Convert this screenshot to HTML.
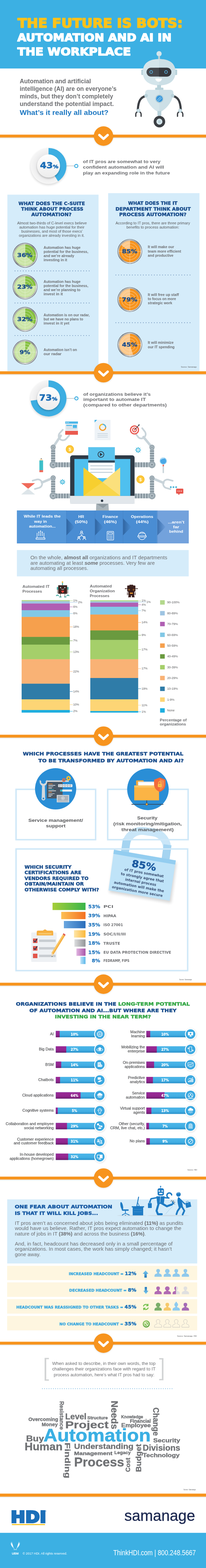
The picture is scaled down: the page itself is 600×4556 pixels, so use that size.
<!DOCTYPE html>
<html><head><meta charset="utf-8"><title>The Future is Bots: Automation and AI in the Workplace</title>
<style>html,body{margin:0;padding:0;background:#fff}svg{display:block}</style></head>
<body>
<svg xmlns="http://www.w3.org/2000/svg" width="600" height="4556" viewBox="0 0 600 4556">
<defs>
<filter id="sh" x="-30%" y="-30%" width="160%" height="170%"><feGaussianBlur in="SourceAlpha" stdDeviation="2"/><feOffset dy="2" result="b"/><feFlood flood-color="#000" flood-opacity="0.18"/><feComposite in2="b" operator="in"/><feMerge><feMergeNode/><feMergeNode in="SourceGraphic"/></feMerge></filter>
<filter id="sh2" x="-30%" y="-30%" width="160%" height="170%"><feGaussianBlur in="SourceAlpha" stdDeviation="3"/><feOffset dy="3" result="b"/><feFlood flood-color="#000" flood-opacity="0.22"/><feComposite in2="b" operator="in"/><feMerge><feMergeNode/><feMergeNode in="SourceGraphic"/></feMerge></filter>
<linearGradient id="lineSh" x1="0" y1="0" x2="0" y2="1"><stop offset="0" stop-color="#000" stop-opacity="0.12"/><stop offset="1" stop-color="#000" stop-opacity="0"/></linearGradient>
</defs>
<defs><filter id="blur2"><feGaussianBlur stdDeviation="2"/></filter></defs>
<rect x="0" y="0" width="600" height="199" fill="#3cb0e3" />
<text x="51.2" y="79.8" font-size="37.9" fill="#fbc21b" font-weight="bold" font-family="'DejaVu Sans', 'Liberation Sans', sans-serif" textLength="480.8" lengthAdjust="spacingAndGlyphs" stroke="#fbc21b" stroke-width="2.4" stroke-linejoin="round">THE FUTURE IS BOTS:</text>
<text x="50.6" y="119.9" font-size="32.2" fill="#fff" font-weight="bold" font-family="'DejaVu Sans', 'Liberation Sans', sans-serif" textLength="449" lengthAdjust="spacingAndGlyphs" stroke="#fff" stroke-width="2.2" stroke-linejoin="round">AUTOMATION AND AI IN</text>
<text x="50.8" y="161.1" font-size="32" fill="#fff" font-weight="bold" font-family="'DejaVu Sans', 'Liberation Sans', sans-serif" textLength="330.5" lengthAdjust="spacingAndGlyphs" stroke="#fff" stroke-width="2.2" stroke-linejoin="round">THE WORKPLACE</text>
<circle cx="463.3" cy="156.1" r="7.6" fill="#d4e5eb" />
<rect x="460.6" y="162" width="5.4" height="11" fill="#b9d2da" />
<rect x="411.5" y="202" width="8" height="16" fill="#b9d2da" rx="2.5"/>
<rect x="508" y="202" width="8" height="16" fill="#b9d2da" rx="2.5"/>
<path d="M416 209 C416 182 436 171.4 463.5 171.4 C491 171.4 511 182 511 209 C511 236 492 248 463.5 248 C435 248 416 236 416 209 Z" fill="#d4e5eb" />
<path d="M463.5 171.4 C491 171.4 511 182 511 209 C511 236 492 248 463.5 248 Z" fill="#c4dae2" opacity="0.55"/>
<rect x="426.8" y="196.7" width="72.2" height="25.7" fill="#45494f" rx="12.8"/>
<path d="M463 196.7 H486.2 A12.8 12.8 0 0 1 486.2 222.4 H463 Z" fill="#35383d" />
<circle cx="440.3" cy="209.3" r="4.1" fill="none" stroke="#5ab4e4" stroke-width="1.8"/>
<circle cx="483.6" cy="209.3" r="4.1" fill="none" stroke="#5ab4e4" stroke-width="1.8"/>
<path d="M452.5 228 H471.5 A9.5 9.5 0 0 1 452.5 228 Z" fill="#fff" />
<rect x="457.5" y="247" width="11.5" height="10" fill="#b9d2da" />
<rect x="452" y="254.7" width="24" height="7" fill="#b9d2da" rx="2"/>
<path d="M424 279 C410 283 403 292 401.5 318" fill="none" stroke="#3c3f44" stroke-width="6.2" stroke-linecap="round"/>
<path d="M504 279 C518 283 525 292 526.5 318" fill="none" stroke="#3c3f44" stroke-width="6.2" stroke-linecap="round"/>
<path d="M432 261 H496 C503 261 506 266 505 273 C502 296 484 316 471 323 C467 325.5 461 325.5 457 323 C444 316 426 296 423 273 C422 266 425 261 432 261 Z" fill="#d4e5eb" />
<path d="M464 261 H496 C503 261 506 266 505 273 C502 296 484 316 471 323 C468 325 466 325.4 464 325.4 Z" fill="#c4dae2" opacity="0.5"/>
<circle cx="425.4" cy="278" r="5.3" fill="#b9d2da" />
<circle cx="502.8" cy="278" r="5.3" fill="#b9d2da" />
<circle cx="464.3" cy="287" r="12.4" fill="#b9d2da" />
<circle cx="464.3" cy="287" r="9.7" fill="#3c97da" />
<path d="M457 292 L468 281 M460 295 L471 284" fill="none" stroke="#8fd0f5" stroke-width="1.6"/>
<path d="M395.5 338 V331 A7.8 7.8 0 0 1 411 331 V338" fill="none" stroke="#3c3f44" stroke-width="3.6" stroke-linecap="round"/>
<path d="M517 338 V331 A7.8 7.8 0 0 1 532.5 331 V338" fill="none" stroke="#3c3f44" stroke-width="3.6" stroke-linecap="round"/>
<circle cx="403.3" cy="321.5" r="5.5" fill="#b9d2da" />
<circle cx="403.3" cy="321.5" r="3" fill="#d4e5eb" />
<circle cx="524.7" cy="321.5" r="5.5" fill="#b9d2da" />
<circle cx="524.7" cy="321.5" r="3" fill="#d4e5eb" />
<rect x="458.6" y="322.4" width="11.2" height="14" fill="#b9d2da" />
<circle cx="464.3" cy="353.4" r="16.8" fill="#3c3f44" />
<circle cx="464.3" cy="353.4" r="8.8" fill="#d4e5eb" />
<circle cx="464.3" cy="353.4" r="3.5" fill="#b9d2da" />
<text x="57.4" y="242.1" font-size="17.5" fill="#6d6e71" font-weight="bold" font-family="'Liberation Sans', Arial, sans-serif" textLength="207.6" lengthAdjust="spacingAndGlyphs">Automation and artificial</text>
<text x="57.4" y="263.8" font-size="17.5" fill="#6d6e71" font-weight="bold" font-family="'Liberation Sans', Arial, sans-serif" textLength="282" lengthAdjust="spacingAndGlyphs">intelligence (AI) are on everyone’s</text>
<text x="57.4" y="285.6" font-size="17.5" fill="#6d6e71" font-weight="bold" font-family="'Liberation Sans', Arial, sans-serif" textLength="272" lengthAdjust="spacingAndGlyphs">minds, but they don’t completely</text>
<text x="57.4" y="307.5" font-size="17.5" fill="#6d6e71" font-weight="bold" font-family="'Liberation Sans', Arial, sans-serif" textLength="274" lengthAdjust="spacingAndGlyphs">understand the potential impact.</text>
<text x="57.4" y="333.6" font-size="19.5" fill="#1e78c2" font-weight="bold" font-family="'Liberation Sans', Arial, sans-serif" textLength="258.6" lengthAdjust="spacingAndGlyphs">What’s it really all about?</text>
<rect x="0" y="399.6" width="600" height="4" fill="url(#lineSh)" />
<rect x="0" y="391.2" width="600" height="8.4" fill="#f7941e" />
<circle cx="301.5" cy="396.9" r="28.5" fill="#000" opacity="0.10" filter="url(#blur2)"/>
<circle cx="301.5" cy="395.4" r="28.3" fill="#f7941e" />
<path d="M289.5 392.4 L301.5 403.4 L313.5 392.4" fill="none" stroke="#fff" stroke-width="7" stroke-linecap="round" stroke-linejoin="round"/>
<defs><filter id="blur3" x="-20%" y="-20%" width="140%" height="140%"><feGaussianBlur stdDeviation="3"/></filter></defs>
<defs>
<radialGradient id="donutG" cx="0.5" cy="0.5" r="0.5"><stop offset="0.6" stop-color="#e9e9ea"/><stop offset="1" stop-color="#f6f6f6"/></radialGradient>
<linearGradient id="innerG" x1="0" y1="0" x2="0" y2="1"><stop offset="0" stop-color="#ffffff"/><stop offset="1" stop-color="#ececec"/></linearGradient>
<linearGradient id="silver" x1="0" y1="0" x2="1" y2="1"><stop offset="0" stop-color="#6d6e71"/><stop offset="0.25" stop-color="#d9dadb"/><stop offset="0.5" stop-color="#8f9194"/><stop offset="0.75" stop-color="#f4f4f5"/><stop offset="1" stop-color="#5d5e61"/></linearGradient>
</defs>
<line x1="192" y1="482" x2="217" y2="482" stroke="#9a9a9a" stroke-width="1"/>
<circle cx="222.2" cy="482.3" r="4.7" fill="#fff" stroke="#3daee2" stroke-width="2.6"/>
<circle cx="141.3" cy="485.2" r="52.3" fill="#000" opacity="0.16" filter="url(#blur3)"/>
<circle cx="141.3" cy="482.2" r="52.3" fill="url(#donutG)" />
<path d="M141.30 482.20 L141.30 429.90 A52.3 52.3 0 0 1 169.01 526.55 Z" fill="#3daee2" />
<circle cx="141.3" cy="485.2" r="34" fill="#000" opacity="0.2" filter="url(#blur2)"/>
<circle cx="141.3" cy="482.2" r="33.6" fill="url(#innerG)" />
<text x="116.6" y="488.9" font-family="'DejaVu Sans', 'Liberation Sans', sans-serif" font-weight="bold" fill="#1f6fb7" stroke="#1f6fb7" stroke-width="0.8" font-size="24.3" textLength="53.5" lengthAdjust="spacingAndGlyphs">43<tspan font-size="14.4">%</tspan></text>
<text x="241.6" y="473.6" font-size="13.3" fill="#6d6e71" font-weight="bold" font-family="'Liberation Sans', Arial, sans-serif" textLength="225.8" lengthAdjust="spacingAndGlyphs">of IT pros are somewhat to very</text>
<text x="241.6" y="490.4" font-size="13.3" fill="#6d6e71" font-weight="bold" font-family="'Liberation Sans', Arial, sans-serif" textLength="236.4" lengthAdjust="spacingAndGlyphs">confident automation and AI will</text>
<text x="241.6" y="507.2" font-size="13.3" fill="#6d6e71" font-weight="bold" font-family="'Liberation Sans', Arial, sans-serif" textLength="253.4" lengthAdjust="spacingAndGlyphs">play an expanding role in the future</text>
<rect x="21.5" y="565.6" width="265.5" height="512.6999999999999" fill="#d5ecfa" />
<rect x="315" y="561.2" width="266" height="517.0999999999999" fill="#d5ecfa" />
<text x="53.8" y="595.7" font-size="13.3" fill="#1c4f8d" font-weight="bold" font-family="'DejaVu Sans', 'Liberation Sans', sans-serif" textLength="193.5" lengthAdjust="spacingAndGlyphs" stroke="#1c4e8c" stroke-width="0.6">WHAT DOES THE C-SUITE</text>
<text x="61.6" y="612.2" font-size="13.3" fill="#1c4f8d" font-weight="bold" font-family="'DejaVu Sans', 'Liberation Sans', sans-serif" textLength="181" lengthAdjust="spacingAndGlyphs" stroke="#1c4e8c" stroke-width="0.6">THINK ABOUT PROCESS</text>
<text x="91" y="628.3" font-size="13.3" fill="#1c4f8d" font-weight="bold" font-family="'DejaVu Sans', 'Liberation Sans', sans-serif" textLength="117.3" lengthAdjust="spacingAndGlyphs" stroke="#1c4e8c" stroke-width="0.6">AUTOMATION?</text>
<text x="373.2" y="595.2" font-size="13.3" fill="#1c4f8d" font-weight="bold" font-family="'DejaVu Sans', 'Liberation Sans', sans-serif" textLength="143.5" lengthAdjust="spacingAndGlyphs" stroke="#1c4e8c" stroke-width="0.6">WHAT DOES THE IT</text>
<text x="336.4" y="611.6" font-size="13.3" fill="#1c4f8d" font-weight="bold" font-family="'DejaVu Sans', 'Liberation Sans', sans-serif" textLength="219.2" lengthAdjust="spacingAndGlyphs" stroke="#1c4e8c" stroke-width="0.6">DEPARTMENT THINK ABOUT</text>
<text x="347" y="627.8" font-size="13.3" fill="#1c4f8d" font-weight="bold" font-family="'DejaVu Sans', 'Liberation Sans', sans-serif" textLength="196.2" lengthAdjust="spacingAndGlyphs" stroke="#1c4e8c" stroke-width="0.6">PROCESS AUTOMATION?</text>
<text x="49.9" y="651.5" font-size="10.6" fill="#58595b" font-weight="normal" font-family="'Liberation Sans', Arial, sans-serif" textLength="203" lengthAdjust="spacingAndGlyphs">Almost two-thirds of C-level execs believe</text>
<text x="55.9" y="663.8" font-size="10.6" fill="#58595b" font-weight="normal" font-family="'Liberation Sans', Arial, sans-serif" textLength="190" lengthAdjust="spacingAndGlyphs">automation has huge potential for their</text>
<text x="62" y="675.9" font-size="10.6" fill="#58595b" font-weight="normal" font-family="'Liberation Sans', Arial, sans-serif" textLength="179" lengthAdjust="spacingAndGlyphs">businesses, and most of those execs’</text>
<text x="54.9" y="687.6" font-size="10.6" fill="#58595b" font-weight="normal" font-family="'Liberation Sans', Arial, sans-serif" textLength="191.3" lengthAdjust="spacingAndGlyphs">organizations are already investing in it.</text>
<text x="336.4" y="651.6" font-size="10.6" fill="#58595b" font-weight="normal" font-family="'Liberation Sans', Arial, sans-serif" textLength="217.2" lengthAdjust="spacingAndGlyphs">According to IT pros, there are three primary</text>
<text x="368.2" y="664" font-size="10.6" fill="#58595b" font-weight="normal" font-family="'Liberation Sans', Arial, sans-serif" textLength="153.9" lengthAdjust="spacingAndGlyphs">benefits to process automation:</text>
<circle cx="73" cy="741.6" r="35.8" fill="#3e3f41" />
<circle cx="73" cy="741.6" r="34.9" fill="url(#silver)" />
<circle cx="73" cy="741.6" r="31.9" fill="#77797c" />
<circle cx="73" cy="741.6" r="31.3" fill="#cbe5a6" />
<path d="M73.00 741.60 L73.00 710.30 A31.3 31.3 0 0 1 97.12 761.55 Z" fill="#86c140" />
<circle cx="73" cy="741.6" r="8.3" fill="none" stroke="#e4f2d3" stroke-width="1.1" opacity="0.75"/>
<circle cx="73" cy="741.6" r="16.3" fill="none" stroke="#e4f2d3" stroke-width="1.1" opacity="0.75"/>
<circle cx="73" cy="741.6" r="24.3" fill="none" stroke="#e4f2d3" stroke-width="1.1" opacity="0.75"/>
<rect x="72.45" y="709.8000000000001" width="1.1" height="63.6" fill="#e4f2d3" opacity="0.75"/>
<rect x="41.2" y="741.0500000000001" width="63.6" height="1.1" fill="#e4f2d3" opacity="0.75"/>
<text x="50" y="747.2" font-family="'DejaVu Sans', 'Liberation Sans', sans-serif" font-weight="bold" fill="#1c4e8c" stroke="#1c4e8c" stroke-width="0.5" font-size="15.6" textLength="44.5" lengthAdjust="spacingAndGlyphs">36%</text>
<circle cx="73" cy="833.7" r="35.8" fill="#3e3f41" />
<circle cx="73" cy="833.7" r="34.9" fill="url(#silver)" />
<circle cx="73" cy="833.7" r="31.9" fill="#77797c" />
<circle cx="73" cy="833.7" r="31.3" fill="#cbe5a6" />
<path d="M73.00 833.70 L73.00 802.40 A31.3 31.3 0 0 1 104.05 829.78 Z" fill="#86c140" />
<circle cx="73" cy="833.7" r="8.3" fill="none" stroke="#e4f2d3" stroke-width="1.1" opacity="0.75"/>
<circle cx="73" cy="833.7" r="16.3" fill="none" stroke="#e4f2d3" stroke-width="1.1" opacity="0.75"/>
<circle cx="73" cy="833.7" r="24.3" fill="none" stroke="#e4f2d3" stroke-width="1.1" opacity="0.75"/>
<rect x="72.45" y="801.9000000000001" width="1.1" height="63.6" fill="#e4f2d3" opacity="0.75"/>
<rect x="41.2" y="833.1500000000001" width="63.6" height="1.1" fill="#e4f2d3" opacity="0.75"/>
<text x="50" y="839.3000000000001" font-family="'DejaVu Sans', 'Liberation Sans', sans-serif" font-weight="bold" fill="#1c4e8c" stroke="#1c4e8c" stroke-width="0.5" font-size="15.6" textLength="44.5" lengthAdjust="spacingAndGlyphs">23%</text>
<circle cx="73" cy="927.8" r="35.8" fill="#3e3f41" />
<circle cx="73" cy="927.8" r="34.9" fill="url(#silver)" />
<circle cx="73" cy="927.8" r="31.9" fill="#77797c" />
<circle cx="73" cy="927.8" r="31.3" fill="#cbe5a6" />
<path d="M73.00 927.80 L73.00 896.50 A31.3 31.3 0 0 1 101.32 941.13 Z" fill="#86c140" />
<circle cx="73" cy="927.8" r="8.3" fill="none" stroke="#e4f2d3" stroke-width="1.1" opacity="0.75"/>
<circle cx="73" cy="927.8" r="16.3" fill="none" stroke="#e4f2d3" stroke-width="1.1" opacity="0.75"/>
<circle cx="73" cy="927.8" r="24.3" fill="none" stroke="#e4f2d3" stroke-width="1.1" opacity="0.75"/>
<rect x="72.45" y="896.0" width="1.1" height="63.6" fill="#e4f2d3" opacity="0.75"/>
<rect x="41.2" y="927.25" width="63.6" height="1.1" fill="#e4f2d3" opacity="0.75"/>
<text x="50" y="933.4" font-family="'DejaVu Sans', 'Liberation Sans', sans-serif" font-weight="bold" fill="#1c4e8c" stroke="#1c4e8c" stroke-width="0.5" font-size="15.6" textLength="44.5" lengthAdjust="spacingAndGlyphs">32%</text>
<circle cx="73" cy="1023.2" r="35.8" fill="#3e3f41" />
<circle cx="73" cy="1023.2" r="34.9" fill="url(#silver)" />
<circle cx="73" cy="1023.2" r="31.9" fill="#77797c" />
<circle cx="73" cy="1023.2" r="31.3" fill="#cbe5a6" />
<path d="M73.00 1023.20 L73.00 991.90 A31.3 31.3 0 0 1 89.77 996.77 Z" fill="#86c140" />
<circle cx="73" cy="1023.2" r="8.3" fill="none" stroke="#e4f2d3" stroke-width="1.1" opacity="0.75"/>
<circle cx="73" cy="1023.2" r="16.3" fill="none" stroke="#e4f2d3" stroke-width="1.1" opacity="0.75"/>
<circle cx="73" cy="1023.2" r="24.3" fill="none" stroke="#e4f2d3" stroke-width="1.1" opacity="0.75"/>
<rect x="72.45" y="991.4000000000001" width="1.1" height="63.6" fill="#e4f2d3" opacity="0.75"/>
<rect x="41.2" y="1022.6500000000001" width="63.6" height="1.1" fill="#e4f2d3" opacity="0.75"/>
<text x="57" y="1028.8" font-family="'DejaVu Sans', 'Liberation Sans', sans-serif" font-weight="bold" fill="#1c4e8c" stroke="#1c4e8c" stroke-width="0.5" font-size="15.6" textLength="31" lengthAdjust="spacingAndGlyphs">9%</text>
<circle cx="378.1" cy="730.5" r="35.8" fill="#3e3f41" />
<circle cx="378.1" cy="730.5" r="34.9" fill="url(#silver)" />
<circle cx="378.1" cy="730.5" r="31.9" fill="#77797c" />
<circle cx="378.1" cy="730.5" r="31.3" fill="#fcc98c" />
<path d="M378.10 730.50 L378.10 699.20 A31.3 31.3 0 1 1 352.78 712.10 Z" fill="#f7941e" />
<circle cx="378.1" cy="730.5" r="8.3" fill="none" stroke="#fddcb5" stroke-width="1.1" opacity="0.75"/>
<circle cx="378.1" cy="730.5" r="16.3" fill="none" stroke="#fddcb5" stroke-width="1.1" opacity="0.75"/>
<circle cx="378.1" cy="730.5" r="24.3" fill="none" stroke="#fddcb5" stroke-width="1.1" opacity="0.75"/>
<rect x="377.55" y="698.7" width="1.1" height="63.6" fill="#fddcb5" opacity="0.75"/>
<rect x="346.3" y="729.95" width="63.6" height="1.1" fill="#fddcb5" opacity="0.75"/>
<text x="355.3" y="736.1" font-family="'DejaVu Sans', 'Liberation Sans', sans-serif" font-weight="bold" fill="#1c4e8c" stroke="#1c4e8c" stroke-width="0.5" font-size="15.6" textLength="44.5" lengthAdjust="spacingAndGlyphs">85%</text>
<circle cx="378.1" cy="870.2" r="35.8" fill="#3e3f41" />
<circle cx="378.1" cy="870.2" r="34.9" fill="url(#silver)" />
<circle cx="378.1" cy="870.2" r="31.9" fill="#77797c" />
<circle cx="378.1" cy="870.2" r="31.3" fill="#fcc98c" />
<path d="M378.10 870.20 L378.10 838.90 A31.3 31.3 0 1 1 347.78 862.42 Z" fill="#f7941e" />
<circle cx="378.1" cy="870.2" r="8.3" fill="none" stroke="#fddcb5" stroke-width="1.1" opacity="0.75"/>
<circle cx="378.1" cy="870.2" r="16.3" fill="none" stroke="#fddcb5" stroke-width="1.1" opacity="0.75"/>
<circle cx="378.1" cy="870.2" r="24.3" fill="none" stroke="#fddcb5" stroke-width="1.1" opacity="0.75"/>
<rect x="377.55" y="838.4000000000001" width="1.1" height="63.6" fill="#fddcb5" opacity="0.75"/>
<rect x="346.3" y="869.6500000000001" width="63.6" height="1.1" fill="#fddcb5" opacity="0.75"/>
<text x="355.3" y="875.8000000000001" font-family="'DejaVu Sans', 'Liberation Sans', sans-serif" font-weight="bold" fill="#1c4e8c" stroke="#1c4e8c" stroke-width="0.5" font-size="15.6" textLength="44.5" lengthAdjust="spacingAndGlyphs">79%</text>
<circle cx="378.1" cy="1001.4" r="35.8" fill="#3e3f41" />
<circle cx="378.1" cy="1001.4" r="34.9" fill="url(#silver)" />
<circle cx="378.1" cy="1001.4" r="31.9" fill="#77797c" />
<circle cx="378.1" cy="1001.4" r="31.3" fill="#fcc98c" />
<path d="M378.10 1001.40 L378.10 970.10 A31.3 31.3 0 0 1 387.77 1031.17 Z" fill="#f7941e" />
<circle cx="378.1" cy="1001.4" r="8.3" fill="none" stroke="#fddcb5" stroke-width="1.1" opacity="0.75"/>
<circle cx="378.1" cy="1001.4" r="16.3" fill="none" stroke="#fddcb5" stroke-width="1.1" opacity="0.75"/>
<circle cx="378.1" cy="1001.4" r="24.3" fill="none" stroke="#fddcb5" stroke-width="1.1" opacity="0.75"/>
<rect x="377.55" y="969.6" width="1.1" height="63.6" fill="#fddcb5" opacity="0.75"/>
<rect x="346.3" y="1000.85" width="63.6" height="1.1" fill="#fddcb5" opacity="0.75"/>
<text x="355.3" y="1007.0" font-family="'DejaVu Sans', 'Liberation Sans', sans-serif" font-weight="bold" fill="#1c4e8c" stroke="#1c4e8c" stroke-width="0.5" font-size="15.6" textLength="44.5" lengthAdjust="spacingAndGlyphs">45%</text>
<text x="127.1" y="723.2" font-size="10.6" fill="#6d6e71" font-weight="bold" font-family="'Liberation Sans', Arial, sans-serif" textLength="107.5" lengthAdjust="spacingAndGlyphs">Automation has huge</text>
<text x="127.1" y="735.1" font-size="10.6" fill="#6d6e71" font-weight="bold" font-family="'Liberation Sans', Arial, sans-serif" textLength="130" lengthAdjust="spacingAndGlyphs">potential for the business,</text>
<text x="127.1" y="747.0" font-size="10.6" fill="#6d6e71" font-weight="bold" font-family="'Liberation Sans', Arial, sans-serif" textLength="89" lengthAdjust="spacingAndGlyphs">and we’re already</text>
<text x="127.1" y="758.9" font-size="10.6" fill="#6d6e71" font-weight="bold" font-family="'Liberation Sans', Arial, sans-serif" textLength="68.5" lengthAdjust="spacingAndGlyphs">investing in it</text>
<text x="127.1" y="822.2" font-size="10.6" fill="#6d6e71" font-weight="bold" font-family="'Liberation Sans', Arial, sans-serif" textLength="107.5" lengthAdjust="spacingAndGlyphs">Automation has huge</text>
<text x="127.1" y="834.1" font-size="10.6" fill="#6d6e71" font-weight="bold" font-family="'Liberation Sans', Arial, sans-serif" textLength="130" lengthAdjust="spacingAndGlyphs">potential for the business,</text>
<text x="127.1" y="846.0" font-size="10.6" fill="#6d6e71" font-weight="bold" font-family="'Liberation Sans', Arial, sans-serif" textLength="107" lengthAdjust="spacingAndGlyphs">and we’re planning to</text>
<text x="127.1" y="857.9" font-size="10.6" fill="#6d6e71" font-weight="bold" font-family="'Liberation Sans', Arial, sans-serif" textLength="56" lengthAdjust="spacingAndGlyphs">invest in it</text>
<text x="127.1" y="919.3" font-size="10.6" fill="#6d6e71" font-weight="bold" font-family="'Liberation Sans', Arial, sans-serif" textLength="134" lengthAdjust="spacingAndGlyphs">Automation is on our radar,</text>
<text x="127.1" y="931.2" font-size="10.6" fill="#6d6e71" font-weight="bold" font-family="'Liberation Sans', Arial, sans-serif" textLength="115" lengthAdjust="spacingAndGlyphs">but we have no plans to</text>
<text x="127.1" y="943.1" font-size="10.6" fill="#6d6e71" font-weight="bold" font-family="'Liberation Sans', Arial, sans-serif" textLength="75" lengthAdjust="spacingAndGlyphs">invest in it yet</text>
<text x="127.1" y="1020.3" font-size="10.6" fill="#6d6e71" font-weight="bold" font-family="'Liberation Sans', Arial, sans-serif" textLength="97" lengthAdjust="spacingAndGlyphs">Automation isn’t on</text>
<text x="127.1" y="1032.2" font-size="10.6" fill="#6d6e71" font-weight="bold" font-family="'Liberation Sans', Arial, sans-serif" textLength="52" lengthAdjust="spacingAndGlyphs">our radar</text>
<text x="430.6" y="721.2" font-size="10.6" fill="#6d6e71" font-weight="bold" font-family="'Liberation Sans', Arial, sans-serif" textLength="76.5" lengthAdjust="spacingAndGlyphs">It will make our</text>
<text x="430.6" y="733.6" font-size="10.6" fill="#6d6e71" font-weight="bold" font-family="'Liberation Sans', Arial, sans-serif" textLength="97" lengthAdjust="spacingAndGlyphs">team more efficient</text>
<text x="430.6" y="746.0" font-size="10.6" fill="#6d6e71" font-weight="bold" font-family="'Liberation Sans', Arial, sans-serif" textLength="74.5" lengthAdjust="spacingAndGlyphs">and productive</text>
<text x="430.6" y="860.0" font-size="10.6" fill="#6d6e71" font-weight="bold" font-family="'Liberation Sans', Arial, sans-serif" textLength="90.5" lengthAdjust="spacingAndGlyphs">It will free up staff</text>
<text x="430.6" y="871.8" font-size="10.6" fill="#6d6e71" font-weight="bold" font-family="'Liberation Sans', Arial, sans-serif" textLength="82" lengthAdjust="spacingAndGlyphs">to focus on more</text>
<text x="430.6" y="883.6" font-size="10.6" fill="#6d6e71" font-weight="bold" font-family="'Liberation Sans', Arial, sans-serif" textLength="71" lengthAdjust="spacingAndGlyphs">strategic work</text>
<text x="430.6" y="999.3" font-size="10.6" fill="#6d6e71" font-weight="bold" font-family="'Liberation Sans', Arial, sans-serif" textLength="75" lengthAdjust="spacingAndGlyphs">It will minimize</text>
<text x="430.6" y="1012.0" font-size="10.6" fill="#6d6e71" font-weight="bold" font-family="'Liberation Sans', Arial, sans-serif" textLength="77.8" lengthAdjust="spacingAndGlyphs">our IT spending</text>
<path d="M43.7 787.2h0 M51.7 787.2h0 M59.7 787.2h0 M67.7 787.2h0 M75.7 787.2h0 M83.7 787.2h0 M91.7 787.2h0 M99.7 787.2h0 M107.7 787.2h0 M115.7 787.2h0 M123.7 787.2h0 M131.7 787.2h0 M139.7 787.2h0 M147.7 787.2h0 M155.7 787.2h0 M163.7 787.2h0 M171.7 787.2h0 M179.7 787.2h0 M187.7 787.2h0 M195.7 787.2h0 M203.7 787.2h0 M211.7 787.2h0 M219.7 787.2h0 M227.7 787.2h0 M235.7 787.2h0 M243.7 787.2h0 M251.7 787.2h0 M259.7 787.2h0" stroke="#5b80ad" stroke-width="2.2" stroke-linecap="round" fill="none"/>
<path d="M43.7 880.4h0 M51.7 880.4h0 M59.7 880.4h0 M67.7 880.4h0 M75.7 880.4h0 M83.7 880.4h0 M91.7 880.4h0 M99.7 880.4h0 M107.7 880.4h0 M115.7 880.4h0 M123.7 880.4h0 M131.7 880.4h0 M139.7 880.4h0 M147.7 880.4h0 M155.7 880.4h0 M163.7 880.4h0 M171.7 880.4h0 M179.7 880.4h0 M187.7 880.4h0 M195.7 880.4h0 M203.7 880.4h0 M211.7 880.4h0 M219.7 880.4h0 M227.7 880.4h0 M235.7 880.4h0 M243.7 880.4h0 M251.7 880.4h0 M259.7 880.4h0" stroke="#5b80ad" stroke-width="2.2" stroke-linecap="round" fill="none"/>
<path d="M43.7 975h0 M51.7 975h0 M59.7 975h0 M67.7 975h0 M75.7 975h0 M83.7 975h0 M91.7 975h0 M99.7 975h0 M107.7 975h0 M115.7 975h0 M123.7 975h0 M131.7 975h0 M139.7 975h0 M147.7 975h0 M155.7 975h0 M163.7 975h0 M171.7 975h0 M179.7 975h0 M187.7 975h0 M195.7 975h0 M203.7 975h0 M211.7 975h0 M219.7 975h0 M227.7 975h0 M235.7 975h0 M243.7 975h0 M251.7 975h0 M259.7 975h0" stroke="#5b80ad" stroke-width="2.2" stroke-linecap="round" fill="none"/>
<path d="M337.5 799.1h0 M345.5 799.1h0 M353.5 799.1h0 M361.5 799.1h0 M369.5 799.1h0 M377.5 799.1h0 M385.5 799.1h0 M393.5 799.1h0 M401.5 799.1h0 M409.5 799.1h0 M417.5 799.1h0 M425.5 799.1h0 M433.5 799.1h0 M441.5 799.1h0 M449.5 799.1h0 M457.5 799.1h0 M465.5 799.1h0 M473.5 799.1h0 M481.5 799.1h0 M489.5 799.1h0 M497.5 799.1h0 M505.5 799.1h0 M513.5 799.1h0 M521.5 799.1h0 M529.5 799.1h0 M537.5 799.1h0 M545.5 799.1h0 M553.5 799.1h0" stroke="#5b80ad" stroke-width="2.2" stroke-linecap="round" fill="none"/>
<path d="M337.5 937.7h0 M345.5 937.7h0 M353.5 937.7h0 M361.5 937.7h0 M369.5 937.7h0 M377.5 937.7h0 M385.5 937.7h0 M393.5 937.7h0 M401.5 937.7h0 M409.5 937.7h0 M417.5 937.7h0 M425.5 937.7h0 M433.5 937.7h0 M441.5 937.7h0 M449.5 937.7h0 M457.5 937.7h0 M465.5 937.7h0 M473.5 937.7h0 M481.5 937.7h0 M489.5 937.7h0 M497.5 937.7h0 M505.5 937.7h0 M513.5 937.7h0 M521.5 937.7h0 M529.5 937.7h0 M537.5 937.7h0 M545.5 937.7h0 M553.5 937.7h0" stroke="#5b80ad" stroke-width="2.2" stroke-linecap="round" fill="none"/>
<text x="527" y="1068" font-size="4.6" fill="#58595b" font-weight="normal" font-family="'Liberation Sans', Arial, sans-serif" textLength="46" lengthAdjust="spacingAndGlyphs">Source: Samanage</text>
<rect x="0" y="1087.2" width="600" height="4" fill="url(#lineSh)" />
<rect x="0" y="1078.8" width="600" height="8.4" fill="#f7941e" />
<circle cx="301.5" cy="1084.5" r="28.5" fill="#000" opacity="0.10" filter="url(#blur2)"/>
<circle cx="301.5" cy="1083" r="28.3" fill="#f7941e" />
<path d="M289.5 1080 L301.5 1091 L313.5 1080" fill="none" stroke="#fff" stroke-width="7" stroke-linecap="round" stroke-linejoin="round"/>
<line x1="194" y1="1157.6" x2="217" y2="1157.6" stroke="#9a9a9a" stroke-width="1"/>
<circle cx="222.6" cy="1157.6" r="4.7" fill="#fff" stroke="#3daee2" stroke-width="2.6"/>
<circle cx="141.3" cy="1160.6" r="52.3" fill="#000" opacity="0.16" filter="url(#blur3)"/>
<circle cx="141.3" cy="1157.6" r="52.3" fill="url(#donutG)" />
<path d="M141.30 1157.60 L141.30 1105.30 A52.3 52.3 0 1 1 89.41 1164.15 Z" fill="#3daee2" />
<circle cx="141.3" cy="1160.6" r="34" fill="#000" opacity="0.2" filter="url(#blur2)"/>
<circle cx="141.3" cy="1157.6" r="33.6" fill="url(#innerG)" />
<text x="114.2" y="1164.3" font-family="'DejaVu Sans', 'Liberation Sans', sans-serif" font-weight="bold" fill="#1f6fb7" stroke="#1f6fb7" stroke-width="0.8" font-size="24.3" textLength="52.8" lengthAdjust="spacingAndGlyphs">73<tspan font-size="14.4">%</tspan></text>
<text x="242.4" y="1149.5" font-size="13.3" fill="#6d6e71" font-weight="bold" font-family="'Liberation Sans', Arial, sans-serif" textLength="196.5" lengthAdjust="spacingAndGlyphs">of organizations believe it’s</text>
<text x="242.4" y="1165.4" font-size="13.3" fill="#6d6e71" font-weight="bold" font-family="'Liberation Sans', Arial, sans-serif" textLength="182.3" lengthAdjust="spacingAndGlyphs">important to automate IT</text>
<text x="242.4" y="1181.3" font-size="13.3" fill="#6d6e71" font-weight="bold" font-family="'Liberation Sans', Arial, sans-serif" textLength="243.3" lengthAdjust="spacingAndGlyphs">(compared to other departments)</text>
<rect x="160" y="1343.5" width="46" height="14" fill="#b3bfc6" />
<rect x="163" y="1343.5" width="3.4" height="14" fill="#7f8e97" />
<rect x="171" y="1343.5" width="3.4" height="14" fill="#7f8e97" />
<rect x="179" y="1343.5" width="3.4" height="14" fill="#7f8e97" />
<rect x="187" y="1343.5" width="3.4" height="14" fill="#7f8e97" />
<rect x="195" y="1343.5" width="3.4" height="14" fill="#7f8e97" />
<rect x="160" y="1434.0" width="46" height="14" fill="#b3bfc6" />
<rect x="163" y="1434.0" width="3.4" height="14" fill="#7f8e97" />
<rect x="171" y="1434.0" width="3.4" height="14" fill="#7f8e97" />
<rect x="179" y="1434.0" width="3.4" height="14" fill="#7f8e97" />
<rect x="187" y="1434.0" width="3.4" height="14" fill="#7f8e97" />
<rect x="195" y="1434.0" width="3.4" height="14" fill="#7f8e97" />
<rect x="148.8" y="1300" width="12" height="50" fill="#b3bfc6" />
<rect x="148.8" y="1302" width="12" height="3.2" fill="#7f8e97" />
<rect x="148.8" y="1309" width="12" height="3.2" fill="#7f8e97" />
<rect x="148.8" y="1316" width="12" height="3.2" fill="#7f8e97" />
<rect x="148.8" y="1323" width="12" height="3.2" fill="#7f8e97" />
<rect x="148.8" y="1330" width="12" height="3.2" fill="#7f8e97" />
<rect x="148.8" y="1337" width="12" height="3.2" fill="#7f8e97" />
<rect x="148.8" y="1344" width="12" height="3.2" fill="#7f8e97" />
<rect x="148.8" y="1389" width="12" height="51" fill="#b3bfc6" />
<rect x="148.8" y="1391" width="12" height="3.2" fill="#7f8e97" />
<rect x="148.8" y="1398" width="12" height="3.2" fill="#7f8e97" />
<rect x="148.8" y="1405" width="12" height="3.2" fill="#7f8e97" />
<rect x="148.8" y="1412" width="12" height="3.2" fill="#7f8e97" />
<rect x="148.8" y="1419" width="12" height="3.2" fill="#7f8e97" />
<rect x="148.8" y="1426" width="12" height="3.2" fill="#7f8e97" />
<rect x="148.8" y="1433" width="12" height="3.2" fill="#7f8e97" />
<circle cx="154.8" cy="1350.4" r="10.4" fill="#9aa8b0" />
<circle cx="154.8" cy="1350.4" r="5.720000000000001" fill="#b3bfc6" />
<circle cx="154.8" cy="1350.4" r="2.6" fill="#7f8e97" />
<circle cx="154.8" cy="1440.5" r="10.4" fill="#9aa8b0" />
<circle cx="154.8" cy="1440.5" r="5.720000000000001" fill="#b3bfc6" />
<circle cx="154.8" cy="1440.5" r="2.6" fill="#7f8e97" />
<path d="M154.8 1299 L177 1266" fill="none" stroke="#c9d4da" stroke-width="7" stroke-linecap="round"/>
<path d="M201.4 1265.4 L192.7 1275.1 A12.5 12.5 0 0 1 174.1 1258.3 L182.8 1248.7" fill="none" stroke="#c9d4da" stroke-width="4.8" stroke-linecap="round"/>
<circle cx="154.8" cy="1299.3" r="7.6" fill="#9aa8b0" />
<circle cx="154.8" cy="1299.3" r="4.18" fill="#b3bfc6" />
<circle cx="154.8" cy="1299.3" r="1.9" fill="#7f8e97" />
<path d="M154.8 1388.6 L122 1402" fill="none" stroke="#c9d4da" stroke-width="7" stroke-linecap="round"/>
<path d="M95.1 1396.5 L107.7 1393.2 A12.5 12.5 0 0 1 114.2 1417.3 L101.6 1420.7" fill="none" stroke="#c9d4da" stroke-width="4.8" stroke-linecap="round"/>
<circle cx="154.8" cy="1388.6" r="7.6" fill="#9aa8b0" />
<circle cx="154.8" cy="1388.6" r="4.18" fill="#b3bfc6" />
<circle cx="154.8" cy="1388.6" r="1.9" fill="#7f8e97" />
<rect x="391" y="1343.5" width="46" height="14" fill="#b3bfc6" />
<rect x="394" y="1343.5" width="3.4" height="14" fill="#7f8e97" />
<rect x="402" y="1343.5" width="3.4" height="14" fill="#7f8e97" />
<rect x="410" y="1343.5" width="3.4" height="14" fill="#7f8e97" />
<rect x="418" y="1343.5" width="3.4" height="14" fill="#7f8e97" />
<rect x="426" y="1343.5" width="3.4" height="14" fill="#7f8e97" />
<rect x="391" y="1434.0" width="46" height="14" fill="#b3bfc6" />
<rect x="394" y="1434.0" width="3.4" height="14" fill="#7f8e97" />
<rect x="402" y="1434.0" width="3.4" height="14" fill="#7f8e97" />
<rect x="410" y="1434.0" width="3.4" height="14" fill="#7f8e97" />
<rect x="418" y="1434.0" width="3.4" height="14" fill="#7f8e97" />
<rect x="426" y="1434.0" width="3.4" height="14" fill="#7f8e97" />
<rect x="436.7" y="1300" width="12" height="50" fill="#b3bfc6" />
<rect x="436.7" y="1302" width="12" height="3.2" fill="#7f8e97" />
<rect x="436.7" y="1309" width="12" height="3.2" fill="#7f8e97" />
<rect x="436.7" y="1316" width="12" height="3.2" fill="#7f8e97" />
<rect x="436.7" y="1323" width="12" height="3.2" fill="#7f8e97" />
<rect x="436.7" y="1330" width="12" height="3.2" fill="#7f8e97" />
<rect x="436.7" y="1337" width="12" height="3.2" fill="#7f8e97" />
<rect x="436.7" y="1344" width="12" height="3.2" fill="#7f8e97" />
<rect x="436.7" y="1389" width="12" height="51" fill="#b3bfc6" />
<rect x="436.7" y="1391" width="12" height="3.2" fill="#7f8e97" />
<rect x="436.7" y="1398" width="12" height="3.2" fill="#7f8e97" />
<rect x="436.7" y="1405" width="12" height="3.2" fill="#7f8e97" />
<rect x="436.7" y="1412" width="12" height="3.2" fill="#7f8e97" />
<rect x="436.7" y="1419" width="12" height="3.2" fill="#7f8e97" />
<rect x="436.7" y="1426" width="12" height="3.2" fill="#7f8e97" />
<rect x="436.7" y="1433" width="12" height="3.2" fill="#7f8e97" />
<circle cx="442.7" cy="1350" r="10.4" fill="#9aa8b0" />
<circle cx="442.7" cy="1350" r="5.720000000000001" fill="#b3bfc6" />
<circle cx="442.7" cy="1350" r="2.6" fill="#7f8e97" />
<circle cx="442.7" cy="1440.5" r="10.4" fill="#9aa8b0" />
<circle cx="442.7" cy="1440.5" r="5.720000000000001" fill="#b3bfc6" />
<circle cx="442.7" cy="1440.5" r="2.6" fill="#7f8e97" />
<path d="M442.7 1299.7 L418 1270" fill="none" stroke="#c9d4da" stroke-width="7" stroke-linecap="round"/>
<path d="M414.2 1244.2 L422.2 1254.5 A12.5 12.5 0 0 1 402.5 1269.8 L394.5 1259.6" fill="none" stroke="#c9d4da" stroke-width="4.8" stroke-linecap="round"/>
<circle cx="442.7" cy="1299.7" r="7.6" fill="#9aa8b0" />
<circle cx="442.7" cy="1299.7" r="4.18" fill="#b3bfc6" />
<circle cx="442.7" cy="1299.7" r="1.9" fill="#7f8e97" />
<path d="M442.7 1389 L476 1403" fill="none" stroke="#c9d4da" stroke-width="7" stroke-linecap="round"/>
<path d="M496.4 1421.2 L483.8 1417.8 A12.5 12.5 0 0 1 490.3 1393.7 L502.9 1397.0" fill="none" stroke="#c9d4da" stroke-width="4.8" stroke-linecap="round"/>
<circle cx="442.7" cy="1389" r="7.6" fill="#9aa8b0" />
<circle cx="442.7" cy="1389" r="4.18" fill="#b3bfc6" />
<circle cx="442.7" cy="1389" r="1.9" fill="#7f8e97" />
<rect x="204.3" y="1323" width="187.7" height="141" fill="#2e3a46" rx="7"/>
<rect x="204.3" y="1440.8" width="187.7" height="23" fill="#e2e7eb" rx="0"/>
<path d="M204.3 1440.8 H392 V1457 Q392 1463.7 385 1463.7 H211 Q204.3 1463.7 204.3 1457 Z" fill="#e2e7eb" />
<circle cx="297.2" cy="1455" r="3.6" fill="#2e3a46" />
<path d="M280.5 1463.7 H315.8 L317 1484 H279.5 Z" fill="#a9b4ba" />
<path d="M280.5 1463.7 H315.8 L300 1476 Z" fill="#8e9aa1" />
<rect x="216.7" y="1333.6" width="162.9" height="107.2" fill="#4fc0ef" />
<rect x="257" y="1299.3" width="77.5" height="90" fill="#ffffff" />
<rect x="257" y="1299.3" width="77.5" height="38.4" fill="#5bc3ee" />
<circle cx="294" cy="1320.5" r="8.6" fill="none" stroke="#2e3a46" stroke-width="2"/>
<path d="M291 1315.5 L299 1320.5 L291 1325.5 Z" fill="#2e3a46" />
<rect x="257" y="1337.7" width="77.5" height="6.5" fill="#2f4a5e" />
<rect x="263" y="1352" width="65" height="3" fill="#c6d3dc" />
<rect x="263" y="1361.5" width="65" height="3" fill="#c6d3dc" />
<rect x="263" y="1371" width="65" height="3" fill="#c6d3dc" />
<path d="M243.3 1358.4 L298.5 1401 L350 1358.4 V1440.8 H243.3 Z" fill="#f9d84c" />
<path d="M243.3 1358.4 L298.5 1401 L243.3 1440.8 Z" fill="#f7cf2f" />
<path d="M350 1358.4 L298.5 1401 L350 1440.8 Z" fill="#fbe07c" />
<path d="M243.3 1440.8 L298.5 1401 L350 1440.8 Z" fill="#f9d64a" />
<rect x="190" y="1224.7" width="37" height="38.5" fill="#e9eef2" />
<rect x="190" y="1224.7" width="37" height="6.2" fill="#4ab6e8" />
<circle cx="193" cy="1227.8" r="1.1" fill="#fff" />
<circle cx="196.5" cy="1227.8" r="1.1" fill="#fff" />
<circle cx="200" cy="1227.8" r="1.1" fill="#fff" />
<rect x="193" y="1234.5" width="17" height="3" fill="#4ab6e8" />
<rect x="212" y="1234.5" width="12" height="9" fill="#4ab6e8" />
<rect x="193" y="1240" width="17" height="2" fill="#c6d3dc" />
<rect x="193" y="1245" width="31" height="2" fill="#c6d3dc" />
<rect x="190" y="1252" width="37" height="11.2" fill="#ea5a4f" />
<path d="M275.5 1220 H322 V1279 H275.5 Z" fill="#eef3f7" />
<path d="M275.5 1220 H283 L275.5 1227.5 Z" fill="#4ab6e8" />
<circle cx="299" cy="1241.7" r="8.8" fill="none" stroke="#f7941e" stroke-width="3.2"/>
<path d="M299 1232.9 A8.8 8.8 0 0 1 307.8 1241.7" fill="none" stroke="#4ab6e8" stroke-width="3.2"/>
<path d="M290.2 1241.7 A8.8 8.8 0 0 1 299 1232.9" fill="none" stroke="#fbc02d" stroke-width="3.2"/>
<rect x="284" y="1259" width="30" height="1.8" fill="#c6d3dc" />
<rect x="284" y="1264" width="30" height="1.8" fill="#c6d3dc" />
<rect x="284" y="1269" width="30" height="1.8" fill="#c6d3dc" />
<circle cx="391.7" cy="1249.2" r="13.3" fill="#e8574e" />
<circle cx="391.7" cy="1249.2" r="10" fill="#fff" />
<circle cx="391.7" cy="1249.2" r="7" fill="#e8574e" />
<circle cx="391.7" cy="1249.2" r="4" fill="#fff" />
<circle cx="391.7" cy="1249.2" r="1.8" fill="#e8574e" />
<path d="M391.7 1249.2 L404 1236" fill="none" stroke="#2e3a46" stroke-width="1.6"/>
<path d="M402 1234 L407 1233 L405 1238 Z" fill="#2e3a46" />
<circle cx="203.4" cy="1305.3" r="11.8" fill="#fbc02d" />
<circle cx="203.4" cy="1305.3" r="9.3" fill="#fcc93e" />
<text x="203.4" y="1310.3" font-size="13" fill="#fff" font-weight="bold" font-family="'Liberation Sans', Arial, sans-serif" text-anchor="middle">$</text>
<circle cx="409.2" cy="1393" r="11.8" fill="#fbc02d" />
<circle cx="409.2" cy="1393" r="9.3" fill="#fcc93e" />
<text x="409.2" y="1398" font-size="13" fill="#fff" font-weight="bold" font-family="'Liberation Sans', Arial, sans-serif" text-anchor="middle">$</text>
<path d="M186.8 1400.4 L189.8 1400.4 M185.4 1403.8 L187.5 1405.9 M182.0 1405.2 L182.0 1408.2 M178.6 1403.8 L176.5 1405.9 M177.2 1400.4 L174.2 1400.4 M178.6 1397.0 L176.5 1394.9 M182.0 1395.6 L182.0 1392.6 M185.4 1397.0 L187.5 1394.9" fill="none" stroke="#44b9dc" stroke-width="2.6"/>
<circle cx="182" cy="1400.4" r="4.3" fill="none" stroke="#44b9dc" stroke-width="2"/>
<circle cx="182" cy="1400.4" r="1.6" fill="#44b9dc" />
<path d="M407.6 1307.6 L410.6 1307.6 M406.0 1311.3 L408.2 1313.5 M402.3 1312.9 L402.3 1315.9 M398.6 1311.3 L396.4 1313.5 M397.0 1307.6 L394.0 1307.6 M398.6 1303.9 L396.4 1301.7 M402.3 1302.3 L402.3 1299.3 M406.0 1303.9 L408.2 1301.7" fill="none" stroke="#44b9dc" stroke-width="2.6"/>
<circle cx="402.3" cy="1307.6" r="4.8" fill="none" stroke="#44b9dc" stroke-width="2"/>
<circle cx="402.3" cy="1307.6" r="1.6" fill="#44b9dc" />
<path d="M114.7 1338 L120.1 1331 L125.5 1338 Z" fill="#f3d9b0" />
<path d="M118.4 1333.2 L120.1 1331 L121.8 1333.2 Z" fill="#2e3a46" />
<rect x="114.7" y="1338" width="10.8" height="28" fill="#3ebfc9" />
<rect x="114.7" y="1366" width="10.8" height="6" fill="#ef6b5b" />
<path d="M61.8 1403.7 H102 L82 1420 Z" fill="#ef6b5b" />
<path d="M82 1420 L102 1436.7 H61.8 Z" fill="#dde5e9" />
<circle cx="475.6" cy="1339.5" r="10.6" fill="#a9d8f3" />
<circle cx="475.6" cy="1339.5" r="8.6" fill="#4aa8e6" />
<path d="M470 1335 A6 6 0 0 1 478 1332" fill="none" stroke="#cfeafb" stroke-width="1.6"/>
<rect x="473.6" y="1350" width="4" height="5" fill="#ef6b5b" />
<rect x="473.6" y="1355" width="4" height="19.5" fill="#c9d4da" />
<circle cx="497.5" cy="1415.4" r="2.6" fill="#4fb6d8" />
<circle cx="505.2" cy="1415.4" r="2.6" fill="#4fb6d8" />
<circle cx="513" cy="1415.4" r="2.6" fill="#4fb6d8" />
<rect x="512.8" y="1419.7" width="21.2" height="14.5" fill="#e8574e" rx="2"/>
<path d="M518 1434 L521 1438.5 L524 1434 Z" fill="#e8574e" />
<circle cx="518.5" cy="1427" r="1.3" fill="#fff" />
<circle cx="523.4" cy="1427" r="1.3" fill="#fff" />
<circle cx="528.3" cy="1427" r="1.3" fill="#fff" />
<defs>
<linearGradient id="arr" x1="0" y1="0" x2="1" y2="0"><stop offset="0" stop-color="#2f64a0"/><stop offset="1" stop-color="#4a8dd3"/></linearGradient>
<linearGradient id="arr2" x1="0" y1="0" x2="1" y2="0"><stop offset="0" stop-color="#3a6fad"/><stop offset="1" stop-color="#6d9edb"/></linearGradient>
</defs>
<rect x="49.4" y="1483.3" width="408.4" height="95.60000000000014" fill="#4a8dd3" />
<rect x="49.4" y="1483.3" width="143.6" height="95.60000000000014" fill="#5597d9" />
<rect x="457.8" y="1483.3" width="91.99999999999994" height="95.60000000000014" fill="#73a2dc" />
<path d="M193 1506 L217.5 1531 L193 1556 Z" fill="url(#arr)" />
<rect x="193" y="1483.3" width="1.2" height="95.60000000000014" fill="#447fc0" opacity="0.6"/>
<path d="M276.4 1506 L300.9 1531 L276.4 1556 Z" fill="url(#arr)" />
<rect x="276.4" y="1483.3" width="1.2" height="95.60000000000014" fill="#447fc0" opacity="0.6"/>
<path d="M357.8 1506 L382.3 1531 L357.8 1556 Z" fill="url(#arr)" />
<rect x="357.8" y="1483.3" width="1.2" height="95.60000000000014" fill="#447fc0" opacity="0.6"/>
<path d="M457.8 1506 L482.3 1531 L457.8 1556 Z" fill="url(#arr2)" />
<rect x="457.8" y="1483.3" width="1.2" height="95.60000000000014" fill="#447fc0" opacity="0.6"/>
<text x="123" y="1503.7" font-size="11.6" fill="#fff" font-weight="bold" font-family="'Liberation Sans', Arial, sans-serif" text-anchor="middle" textLength="107.6" lengthAdjust="spacingAndGlyphs">While IT leads the</text>
<text x="118" y="1518.7" font-size="11.6" fill="#fff" font-weight="bold" font-family="'Liberation Sans', Arial, sans-serif" text-anchor="middle" textLength="37" lengthAdjust="spacingAndGlyphs">way in</text>
<text x="123.5" y="1533.3" font-size="11.6" fill="#fff" font-weight="bold" font-family="'Liberation Sans', Arial, sans-serif" text-anchor="middle" textLength="77.5" lengthAdjust="spacingAndGlyphs">automation...</text>
<text x="236.5" y="1504.5" font-size="11.6" fill="#fff" font-weight="bold" font-family="'Liberation Sans', Arial, sans-serif" text-anchor="middle" textLength="17" lengthAdjust="spacingAndGlyphs">HR</text>
<text x="236.5" y="1519.8" font-size="11.6" fill="#fff" font-weight="bold" font-family="'Liberation Sans', Arial, sans-serif" text-anchor="middle" textLength="37" lengthAdjust="spacingAndGlyphs">(50%)</text>
<text x="321.3" y="1504.5" font-size="11.6" fill="#fff" font-weight="bold" font-family="'Liberation Sans', Arial, sans-serif" text-anchor="middle" textLength="45.5" lengthAdjust="spacingAndGlyphs">Finance</text>
<text x="321.3" y="1519.6" font-size="11.6" fill="#fff" font-weight="bold" font-family="'Liberation Sans', Arial, sans-serif" text-anchor="middle" textLength="37" lengthAdjust="spacingAndGlyphs">(46%)</text>
<text x="413.8" y="1504.5" font-size="11.6" fill="#fff" font-weight="bold" font-family="'Liberation Sans', Arial, sans-serif" text-anchor="middle" textLength="65" lengthAdjust="spacingAndGlyphs">Operations</text>
<text x="414.4" y="1519.8" font-size="11.6" fill="#fff" font-weight="bold" font-family="'Liberation Sans', Arial, sans-serif" text-anchor="middle" textLength="37" lengthAdjust="spacingAndGlyphs">(44%)</text>
<text x="513" y="1521" font-size="11.6" fill="#fff" font-weight="bold" font-family="'Liberation Sans', Arial, sans-serif" text-anchor="middle" textLength="48" lengthAdjust="spacingAndGlyphs">...aren’t</text>
<text x="513" y="1534.7" font-size="11.6" fill="#fff" font-weight="bold" font-family="'Liberation Sans', Arial, sans-serif" text-anchor="middle" textLength="18" lengthAdjust="spacingAndGlyphs">far</text>
<text x="513" y="1548.4" font-size="11.6" fill="#fff" font-weight="bold" font-family="'Liberation Sans', Arial, sans-serif" text-anchor="middle" textLength="41" lengthAdjust="spacingAndGlyphs">behind</text>
<path d="M108 1549 V1563 H128 V1549 M105 1563 H131 V1567 H105 Z M113 1557 V1547 M118 1557 V1544 M123 1557 V1547" fill="none" stroke="#fff" stroke-width="1.5" stroke-linejoin="round" stroke-linecap="round"/>
<circle cx="113" cy="1546" r="1.5" fill="#fff" />
<circle cx="118" cy="1543" r="1.5" fill="#fff" />
<circle cx="123" cy="1546" r="1.5" fill="#fff" />
<path d="M237.6 1551 V1556 L229.5 1561 M237.6 1556 L245.7 1561" fill="none" stroke="#fff" stroke-width="1.5" stroke-linejoin="round" stroke-linecap="round"/>
<circle cx="237.6" cy="1545.5" r="2.6" fill="none" stroke="#fff" stroke-width="1.5"/>
<circle cx="229.5" cy="1561.5" r="2.6" fill="none" stroke="#fff" stroke-width="1.5"/>
<circle cx="245.7" cy="1561.5" r="2.6" fill="none" stroke="#fff" stroke-width="1.5"/>
<path d="M233.4 1552 A4.2 4.2 0 0 1 241.8 1552 M225.3 1568.5 A4.2 4.2 0 0 1 233.7 1568.5 M241.5 1568.5 A4.2 4.2 0 0 1 249.9 1568.5" fill="none" stroke="#fff" stroke-width="1.5" stroke-linejoin="round" stroke-linecap="round"/>
<rect x="312" y="1544" width="19" height="25" rx="2" fill="none" stroke="#fff" stroke-width="1.5" stroke-linejoin="round" stroke-linecap="round"/>
<rect x="315.5" y="1547.5" width="12" height="5" fill="none" stroke="#fff" stroke-width="1.5" stroke-linejoin="round" stroke-linecap="round"/>
<rect x="315.6" y="1556" width="2.4" height="2.2" fill="#fff" />
<rect x="320.1" y="1556" width="2.4" height="2.2" fill="#fff" />
<rect x="324.6" y="1556" width="2.4" height="2.2" fill="#fff" />
<rect x="315.6" y="1560" width="2.4" height="2.2" fill="#fff" />
<rect x="320.1" y="1560" width="2.4" height="2.2" fill="#fff" />
<rect x="324.6" y="1560" width="2.4" height="2.2" fill="#fff" />
<rect x="315.6" y="1564" width="2.4" height="2.2" fill="#fff" />
<rect x="320.1" y="1564" width="2.4" height="2.2" fill="#fff" />
<rect x="324.6" y="1564" width="2.4" height="2.2" fill="#fff" />
<path d="M403 1557 A10.7 10.7 0 0 1 424.4 1557 Z M401.5 1557 H426 V1560.5 H401.5 Z M405 1560.5 V1564 Q413.7 1572 422.4 1564 V1560.5 M413.7 1546.3 V1552 M409 1547.3 V1551 M418.4 1547.3 V1551" fill="none" stroke="#fff" stroke-width="1.5" stroke-linejoin="round" stroke-linecap="round"/>
<rect x="49.2" y="1598.3" width="500.4" height="76.4" fill="#d5ecfa" />
<text x="88.5" y="1625.3" font-size="14.5" fill="#6d6e71" font-family="'Liberation Sans', Arial, sans-serif" textLength="398.5" lengthAdjust="spacingAndGlyphs">On the whole, <tspan font-weight="bold">almost all</tspan> organizations and IT departments</text>
<text x="88.5" y="1641.1" font-size="14.5" fill="#6d6e71" font-family="'Liberation Sans', Arial, sans-serif" textLength="362.4" lengthAdjust="spacingAndGlyphs">are automating at least <tspan font-weight="bold" font-style="italic">some</tspan> processes. Very few are</text>
<text x="88.5" y="1656.4" font-size="14.5" fill="#6d6e71" font-family="'Liberation Sans', Arial, sans-serif" textLength="168.4" lengthAdjust="spacingAndGlyphs">automating all processes.</text>
<rect x="63" y="1743.7" width="140.3" height="3.8" fill="#b3d88c" />
<rect x="63" y="1747.2" width="140.3" height="6.7" fill="#9ec4e2" />
<rect x="63" y="1753.6" width="140.3" height="19.7" fill="#b05fb3" />
<rect x="63" y="1773" width="140.3" height="19.8" fill="#82c8e6" />
<rect x="63" y="1792.5" width="140.3" height="58.4" fill="#f6a04d" />
<rect x="63" y="1850.6" width="140.3" height="22.7" fill="#6a9a3f" />
<rect x="63" y="1873" width="140.3" height="42.8" fill="#a5cf6a" />
<rect x="63" y="1915.5" width="140.3" height="71.3" fill="#f9b275" />
<rect x="63" y="1986.5" width="140.3" height="45.8" fill="#2f7ca8" />
<rect x="63" y="2032" width="140.3" height="31.3" fill="#fdd575" />
<rect x="63" y="2063" width="140.3" height="7.6" fill="#1eaedf" />
<line x1="203.3" y1="1745.5" x2="211.8" y2="1745.5" stroke="#b3d88c" stroke-width="1"/>
<text x="213.3" y="1748.0" font-size="8.6" fill="#58595b" font-weight="normal" font-family="'Liberation Sans', Arial, sans-serif">1%</text>
<line x1="203.3" y1="1750.4" x2="225.8" y2="1750.4" stroke="#9ec4e2" stroke-width="1"/>
<text x="227.3" y="1753.0" font-size="8.6" fill="#58595b" font-weight="normal" font-family="'Liberation Sans', Arial, sans-serif">2%</text>
<line x1="203.3" y1="1763.3" x2="211.8" y2="1763.3" stroke="#b05fb3" stroke-width="1"/>
<text x="213.3" y="1765.9" font-size="8.6" fill="#58595b" font-weight="normal" font-family="'Liberation Sans', Arial, sans-serif">6%</text>
<line x1="203.3" y1="1782.8" x2="211.8" y2="1782.8" stroke="#82c8e6" stroke-width="1"/>
<text x="213.3" y="1785.3" font-size="8.6" fill="#58595b" font-weight="normal" font-family="'Liberation Sans', Arial, sans-serif">6%</text>
<line x1="203.3" y1="1821.5" x2="211.8" y2="1821.5" stroke="#f6a04d" stroke-width="1"/>
<text x="213.3" y="1824.1" font-size="8.6" fill="#58595b" font-weight="normal" font-family="'Liberation Sans', Arial, sans-serif">18%</text>
<line x1="203.3" y1="1861.8" x2="211.8" y2="1861.8" stroke="#6a9a3f" stroke-width="1"/>
<text x="213.3" y="1864.4" font-size="8.6" fill="#58595b" font-weight="normal" font-family="'Liberation Sans', Arial, sans-serif">7%</text>
<line x1="203.3" y1="1894.2" x2="211.8" y2="1894.2" stroke="#a5cf6a" stroke-width="1"/>
<text x="213.3" y="1896.8" font-size="8.6" fill="#58595b" font-weight="normal" font-family="'Liberation Sans', Arial, sans-serif">13%</text>
<line x1="203.3" y1="1951.0" x2="211.8" y2="1951.0" stroke="#f9b275" stroke-width="1"/>
<text x="213.3" y="1953.6" font-size="8.6" fill="#58595b" font-weight="normal" font-family="'Liberation Sans', Arial, sans-serif">22%</text>
<line x1="203.3" y1="2009.2" x2="211.8" y2="2009.2" stroke="#2f7ca8" stroke-width="1"/>
<text x="213.3" y="2011.8" font-size="8.6" fill="#58595b" font-weight="normal" font-family="'Liberation Sans', Arial, sans-serif">14%</text>
<line x1="203.3" y1="2047.5" x2="211.8" y2="2047.5" stroke="#fdd575" stroke-width="1"/>
<text x="213.3" y="2050.1" font-size="8.6" fill="#58595b" font-weight="normal" font-family="'Liberation Sans', Arial, sans-serif">10%</text>
<line x1="203.3" y1="2066.7" x2="211.8" y2="2066.7" stroke="#1eaedf" stroke-width="1"/>
<text x="213.3" y="2069.2" font-size="8.6" fill="#58595b" font-weight="normal" font-family="'Liberation Sans', Arial, sans-serif">2%</text>
<rect x="263" y="1744" width="139.5" height="3.8" fill="#b3d88c" />
<rect x="263" y="1747.5" width="139.5" height="4.0" fill="#9ec4e2" />
<rect x="263" y="1751.2" width="139.5" height="12.1" fill="#b05fb3" />
<rect x="263" y="1763" width="139.5" height="22.9" fill="#82c8e6" />
<rect x="263" y="1785.6" width="139.5" height="46.5" fill="#f6a04d" />
<rect x="263" y="1831.8" width="139.5" height="28.0" fill="#6a9a3f" />
<rect x="263" y="1859.5" width="139.5" height="56.3" fill="#a5cf6a" />
<rect x="263" y="1915.5" width="139.5" height="54.8" fill="#f9b275" />
<rect x="263" y="1970" width="139.5" height="62.3" fill="#2f7ca8" />
<rect x="263" y="2032" width="139.5" height="34.3" fill="#fdd575" />
<rect x="263" y="2066" width="139.5" height="4.6" fill="#1eaedf" />
<line x1="402.5" y1="1745.8" x2="411.0" y2="1745.8" stroke="#b3d88c" stroke-width="1"/>
<text x="412.5" y="1748.3" font-size="8.6" fill="#58595b" font-weight="normal" font-family="'Liberation Sans', Arial, sans-serif">1%</text>
<line x1="402.5" y1="1749.3" x2="425.0" y2="1749.3" stroke="#9ec4e2" stroke-width="1"/>
<text x="426.5" y="1751.9" font-size="8.6" fill="#58595b" font-weight="normal" font-family="'Liberation Sans', Arial, sans-serif">1%</text>
<line x1="402.5" y1="1757.1" x2="411.0" y2="1757.1" stroke="#b05fb3" stroke-width="1"/>
<text x="412.5" y="1759.7" font-size="8.6" fill="#58595b" font-weight="normal" font-family="'Liberation Sans', Arial, sans-serif">4%</text>
<line x1="402.5" y1="1774.3" x2="411.0" y2="1774.3" stroke="#82c8e6" stroke-width="1"/>
<text x="412.5" y="1776.9" font-size="8.6" fill="#58595b" font-weight="normal" font-family="'Liberation Sans', Arial, sans-serif">7%</text>
<line x1="402.5" y1="1808.7" x2="411.0" y2="1808.7" stroke="#f6a04d" stroke-width="1"/>
<text x="412.5" y="1811.3" font-size="8.6" fill="#58595b" font-weight="normal" font-family="'Liberation Sans', Arial, sans-serif">14%</text>
<line x1="402.5" y1="1845.7" x2="411.0" y2="1845.7" stroke="#6a9a3f" stroke-width="1"/>
<text x="412.5" y="1848.2" font-size="8.6" fill="#58595b" font-weight="normal" font-family="'Liberation Sans', Arial, sans-serif">9%</text>
<line x1="402.5" y1="1887.5" x2="411.0" y2="1887.5" stroke="#a5cf6a" stroke-width="1"/>
<text x="412.5" y="1890.1" font-size="8.6" fill="#58595b" font-weight="normal" font-family="'Liberation Sans', Arial, sans-serif">17%</text>
<line x1="402.5" y1="1942.8" x2="411.0" y2="1942.8" stroke="#f9b275" stroke-width="1"/>
<text x="412.5" y="1945.3" font-size="8.6" fill="#58595b" font-weight="normal" font-family="'Liberation Sans', Arial, sans-serif">17%</text>
<line x1="402.5" y1="2001.0" x2="411.0" y2="2001.0" stroke="#2f7ca8" stroke-width="1"/>
<text x="412.5" y="2003.6" font-size="8.6" fill="#58595b" font-weight="normal" font-family="'Liberation Sans', Arial, sans-serif">19%</text>
<line x1="402.5" y1="2049.0" x2="411.0" y2="2049.0" stroke="#fdd575" stroke-width="1"/>
<text x="412.5" y="2051.6" font-size="8.6" fill="#58595b" font-weight="normal" font-family="'Liberation Sans', Arial, sans-serif">11%</text>
<line x1="402.5" y1="2068.2" x2="411.0" y2="2068.2" stroke="#1eaedf" stroke-width="1"/>
<text x="412.5" y="2070.8" font-size="8.6" fill="#58595b" font-weight="normal" font-family="'Liberation Sans', Arial, sans-serif">1%</text>
<rect x="466.3" y="1744.0" width="13.5" height="12.8" fill="#b3d88c" />
<text x="486.9" y="1753.4" font-size="9" fill="#58595b" font-weight="normal" font-family="'Liberation Sans', Arial, sans-serif">90-100%</text>
<rect x="466.3" y="1775.4" width="13.5" height="12.8" fill="#9ec4e2" />
<text x="486.9" y="1784.8" font-size="9" fill="#58595b" font-weight="normal" font-family="'Liberation Sans', Arial, sans-serif">80-89%</text>
<rect x="466.3" y="1806.8" width="13.5" height="12.8" fill="#b05fb3" />
<text x="486.9" y="1816.2" font-size="9" fill="#58595b" font-weight="normal" font-family="'Liberation Sans', Arial, sans-serif">70-79%</text>
<rect x="466.3" y="1838.1" width="13.5" height="12.8" fill="#82c8e6" />
<text x="486.9" y="1847.5" font-size="9" fill="#58595b" font-weight="normal" font-family="'Liberation Sans', Arial, sans-serif">60-69%</text>
<rect x="466.3" y="1869.5" width="13.5" height="12.8" fill="#f6a04d" />
<text x="486.9" y="1878.9" font-size="9" fill="#58595b" font-weight="normal" font-family="'Liberation Sans', Arial, sans-serif">50-59%</text>
<rect x="466.3" y="1900.9" width="13.5" height="12.8" fill="#6a9a3f" />
<text x="486.9" y="1910.3" font-size="9" fill="#58595b" font-weight="normal" font-family="'Liberation Sans', Arial, sans-serif">40-49%</text>
<rect x="466.3" y="1932.3" width="13.5" height="12.8" fill="#a5cf6a" />
<text x="486.9" y="1941.7" font-size="9" fill="#58595b" font-weight="normal" font-family="'Liberation Sans', Arial, sans-serif">30-39%</text>
<rect x="466.3" y="1963.7" width="13.5" height="12.8" fill="#f9b275" />
<text x="486.9" y="1973.1" font-size="9" fill="#58595b" font-weight="normal" font-family="'Liberation Sans', Arial, sans-serif">20-29%</text>
<rect x="466.3" y="1995.0" width="13.5" height="12.8" fill="#2f7ca8" />
<text x="486.9" y="2004.4" font-size="9" fill="#58595b" font-weight="normal" font-family="'Liberation Sans', Arial, sans-serif">10-19%</text>
<rect x="466.3" y="2026.4" width="13.5" height="12.8" fill="#fdd575" />
<text x="486.9" y="2035.8" font-size="9" fill="#58595b" font-weight="normal" font-family="'Liberation Sans', Arial, sans-serif">1-9%</text>
<rect x="466.3" y="2057.8" width="13.5" height="12.8" fill="#1eaedf" />
<text x="486.9" y="2067.2" font-size="9" fill="#58595b" font-weight="normal" font-family="'Liberation Sans', Arial, sans-serif">None</text>
<text x="465.6" y="2096" font-size="11.6" fill="#6d6e71" font-weight="bold" font-family="'Liberation Sans', Arial, sans-serif" textLength="78" lengthAdjust="spacingAndGlyphs">Percentage of</text>
<text x="465.6" y="2108.4" font-size="11.6" fill="#6d6e71" font-weight="bold" font-family="'Liberation Sans', Arial, sans-serif" textLength="76.2" lengthAdjust="spacingAndGlyphs">organizations</text>
<text x="65.3" y="1708.4" font-size="11.4" fill="#6d6e71" font-weight="bold" font-family="'Liberation Sans', Arial, sans-serif" textLength="79" lengthAdjust="spacingAndGlyphs">Automated IT</text>
<text x="65.3" y="1721.9" font-size="11.4" fill="#6d6e71" font-weight="bold" font-family="'Liberation Sans', Arial, sans-serif" textLength="57" lengthAdjust="spacingAndGlyphs">Processes</text>
<text x="261.5" y="1707.1" font-size="11.4" fill="#6d6e71" font-weight="bold" font-family="'Liberation Sans', Arial, sans-serif" textLength="64.3" lengthAdjust="spacingAndGlyphs">Automated</text>
<text x="261.5" y="1721.4" font-size="11.4" fill="#6d6e71" font-weight="bold" font-family="'Liberation Sans', Arial, sans-serif" textLength="73.1" lengthAdjust="spacingAndGlyphs">Organization</text>
<text x="261.5" y="1734.6" font-size="11.4" fill="#6d6e71" font-weight="bold" font-family="'Liberation Sans', Arial, sans-serif" textLength="57" lengthAdjust="spacingAndGlyphs">Processes</text>
<circle cx="182" cy="1691.3" r="2.1" fill="#f5b82e" />
<rect x="180.6" y="1693.3" width="2.8" height="7.2" fill="#3fa9a0" />
<rect x="165.5" y="1705.6" width="4.2" height="7.3" fill="#3fa9a0" />
<rect x="195.4" y="1705.6" width="4.2" height="7.3" fill="#3fa9a0" />
<rect x="169.6" y="1700.5" width="25.8" height="24.8" fill="#3a2320" />
<circle cx="176.4" cy="1707.3" r="1.7" fill="#bfe3df" />
<circle cx="188.8" cy="1707.3" r="1.7" fill="#bfe3df" />
<path d="M178.5 1711.3 Q182.5 1714 186.5 1711.3" fill="none" stroke="#fff" stroke-width="1.2"/>
<path d="M182.6 1723.2 L178.8 1719.3 A2 2 0 0 1 182.6 1716.8 A2 2 0 0 1 186.4 1719.3 Z" fill="#e8453c" />
<path d="M167.5 1713 V1725 M197.5 1713 V1725 M176 1725.3 V1733 M189 1725.3 V1733" fill="none" stroke="#3a2320" stroke-width="1.6" stroke-dasharray="2 1"/>
<path d="M163 1732 A4.3 4.3 0 0 1 171.6 1732 L169 1732 A1.7 1.7 0 0 0 165.6 1732 Z" fill="#3fa9a0" />
<path d="M193.5 1732 A4.3 4.3 0 0 1 202.1 1732 L199.5 1732 A1.7 1.7 0 0 0 196.1 1732 Z" fill="#3fa9a0" />
<rect x="172.7" y="1733.2" width="6.5" height="2.6" fill="#3fa9a0" />
<rect x="186.8" y="1733.2" width="6.5" height="2.6" fill="#3fa9a0" />
<rect x="377" y="1699" width="11" height="2.5" fill="#3a1f1c" />
<rect x="370.6" y="1701.2" width="23.8" height="17.8" fill="#3a1f1c" rx="1.5"/>
<rect x="365" y="1709.6" width="6" height="1.6" fill="#3a1f1c" />
<rect x="394" y="1709.6" width="6" height="1.6" fill="#3a1f1c" />
<circle cx="365.2" cy="1710.4" r="1.3" fill="#3a1f1c" />
<circle cx="399.8" cy="1710.4" r="1.3" fill="#3a1f1c" />
<circle cx="376" cy="1713.5" r="1.8" fill="none" stroke="#f59e2e" stroke-width="0.9"/>
<circle cx="389" cy="1713.5" r="1.8" fill="none" stroke="#f59e2e" stroke-width="0.9"/>
<rect x="373.7" y="1719" width="17.6" height="11.3" fill="#3a1f1c" />
<rect x="377.9" y="1722" width="9.3" height="3.2" fill="#f59e2e" rx="1.4"/>
<path d="M371 1721 V1729 M394 1721 V1729" fill="none" stroke="#3a1f1c" stroke-width="1.6"/>
<path d="M375 1730 H381.5 V1735.5 H373 Z M384 1730 H390.5 L392.5 1735.5 H384 Z" fill="#3a1f1c" />
<rect x="0" y="2143.2" width="600" height="4" fill="url(#lineSh)" />
<rect x="0" y="2134.8" width="600" height="8.4" fill="#f7941e" />
<circle cx="301.5" cy="2140.5" r="28.5" fill="#000" opacity="0.10" filter="url(#blur2)"/>
<circle cx="301.5" cy="2139" r="28.3" fill="#f7941e" />
<path d="M289.5 2136 L301.5 2147 L313.5 2136" fill="none" stroke="#fff" stroke-width="7" stroke-linecap="round" stroke-linejoin="round"/>
<text x="66.5" y="2195" font-size="14.6" fill="#1c4f8d" font-weight="bold" font-family="'DejaVu Sans', 'Liberation Sans', sans-serif" textLength="467.5" lengthAdjust="spacingAndGlyphs" stroke="#1c4e8c" stroke-width="0.7">WHICH PROCESSES HAVE THE GREATEST POTENTIAL</text>
<text x="111.6" y="2214.8" font-size="14.6" fill="#1c4f8d" font-weight="bold" font-family="'DejaVu Sans', 'Liberation Sans', sans-serif" textLength="423.5" lengthAdjust="spacingAndGlyphs" stroke="#1c4e8c" stroke-width="0.7">TO BE TRANSFORMED BY AUTOMATION AND AI?</text>
<g transform="rotate(8 424 2480)">
<path d="M364 2492 V2462 A46 46 0 0 1 410 2416 H438 A46 46 0 0 1 484 2462 V2492" fill="none" stroke="#c9e6f8" stroke-width="23"/>
<rect x="352.5" y="2446" width="23" height="46" fill="#a5d4f1" />
<rect x="472.5" y="2446" width="23" height="46" fill="#a5d4f1" />
</g>
<rect x="46.7" y="2293.5" width="231.80000000000004" height="146.3" fill="none" stroke="#cfe8f8" stroke-width="4.2"/>
<rect x="313.70000000000005" y="2293.5" width="234.2" height="146.3" fill="none" stroke="#cfe8f8" stroke-width="4.2"/>
<rect x="46.7" y="2466.7999999999997" width="499.90000000000003" height="353.5000000000003" fill="none" stroke="#cfe8f8" stroke-width="4.2"/>
<circle cx="162" cy="2292" r="60" fill="#2a8ed6" />
<circle cx="430.9" cy="2293.4" r="60.5" fill="#2a8ed6" />
<rect x="136.4" y="2267.6" width="46" height="52.4" fill="#4a5866" />
<rect x="136.4" y="2267.6" width="64" height="4.2" fill="#d5dadf" />
<rect x="141" y="2277" width="12" height="1.6" fill="#f58634" />
<rect x="141" y="2281" width="20" height="1.6" fill="#fff" />
<rect x="141" y="2285" width="14" height="1.6" fill="#c8cfd6" />
<rect x="141" y="2289" width="10" height="1.6" fill="#fff" />
<rect x="141" y="2293" width="16" height="1.6" fill="#3abcd0" />
<rect x="141" y="2297" width="22" height="1.6" fill="#fff" />
<rect x="141" y="2301" width="10" height="1.6" fill="#f58634" />
<rect x="141" y="2305" width="18" height="1.6" fill="#c8cfd6" />
<rect x="141" y="2309" width="12" height="1.6" fill="#fff" />
<rect x="141" y="2313" width="8" height="1.6" fill="#fff" />
<rect x="169.4" y="2278.8" width="41.4" height="8.2" fill="#f2f4f6" rx="1.5"/>
<circle cx="174.0" cy="2282.9" r="2.3" fill="none" stroke="#4a5866" stroke-width="0.9"/>
<circle cx="181.6" cy="2282.9" r="2.3" fill="none" stroke="#4a5866" stroke-width="0.9"/>
<circle cx="189.2" cy="2282.9" r="2.3" fill="none" stroke="#4a5866" stroke-width="0.9"/>
<circle cx="196.8" cy="2282.9" r="2.3" fill="none" stroke="#4a5866" stroke-width="0.9"/>
<circle cx="204.4" cy="2282.9" r="2.3" fill="none" stroke="#4a5866" stroke-width="0.9"/>
<rect x="175.6" y="2294" width="34" height="6" fill="#e9edf0" />
<rect x="175.6" y="2294" width="6" height="6" fill="#3abcd0" />
<rect x="165.3" y="2309.8" width="36" height="21.5" fill="#d5dadf" />
<rect x="168" y="2312" width="30.6" height="14.5" fill="#a9b2ba" />
<circle cx="183.3" cy="2319.2" r="4.4" fill="none" stroke="#fff" stroke-width="1"/>
<path d="M182 2317 L185.5 2319.2 L182 2321.4 Z" fill="#fff" />
<rect x="168" y="2328" width="30.6" height="1.2" fill="#8b959e" />
<polygon points="192.2,2266.4 190.1,2268.1 190.4,2270.8 187.7,2270.5 186.0,2272.6 184.3,2270.5 181.6,2270.8 181.9,2268.1 179.8,2266.4 181.9,2264.7 181.6,2262.0 184.3,2262.3 186.0,2260.2 187.7,2262.3 190.4,2262.0 190.1,2264.7" fill="#f26b3a"/>
<circle cx="186" cy="2266.4" r="2.0460000000000003" fill="#2a8ed6" />
<polygon points="207.2,2261.3 204.7,2263.4 205.0,2266.7 201.7,2266.4 199.6,2268.9 197.5,2266.4 194.2,2266.7 194.5,2263.4 192.0,2261.3 194.5,2259.2 194.2,2255.9 197.5,2256.2 199.6,2253.7 201.7,2256.2 205.0,2255.9 204.7,2259.2" fill="#fbc02d"/>
<circle cx="199.6" cy="2261.3" r="2.508" fill="#2a8ed6" />
<path d="M116 2266 C 114 2274 117 2280 122.5 2283 L121.5 2318 A5.5 5.5 0 1 0 131.5 2318 L130.5 2283 C 136 2280 139 2274 137 2266 L133 2270 L133 2275 L126.5 2278 L120 2275 L120 2270 Z" fill="#d4d9dd" />
<circle cx="126.5" cy="2320" r="2.5" fill="#2a8ed6" />
<rect x="396.4" y="2267.5" width="22" height="14" fill="#f6a93b" rx="1.5"/>
<rect x="402" y="2271" width="52" height="14" fill="#e4e8eb" />
<rect x="404" y="2274" width="48" height="10" fill="#ffffff" />
<path d="M391 2282 H463.3 V2325.4 H391 Z" fill="#fbb445" />
<path d="M391 2282 H463.3 V2288 H391 Z" fill="#fcc666" />
<path d="M383 2337 H476 M427.3 2325.4 V2337" fill="none" stroke="#34495e" stroke-width="2"/>
<circle cx="427.3" cy="2337" r="3.4" fill="#f6a93b" stroke="#34495e" stroke-width="1"/>
<path d="M465.4 2259 L482 2265.5 V2279 C482 2290 475 2297 465.4 2301 C455.8 2297 448.8 2290 448.8 2279 V2265.5 Z" fill="#f26b3a" />
<path d="M465.4 2263.5 L478 2268.5 V2279 C478 2287.5 472.5 2293 465.4 2296.5 Z" fill="#f58a4e" />
<rect x="459.8" y="2278" width="11.2" height="9" fill="#fcc24a" rx="1"/>
<path d="M461.8 2278 V2274.5 A3.6 3.6 0 0 1 469 2274.5 V2278" fill="none" stroke="#fcc24a" stroke-width="1.8"/>
<circle cx="465.4" cy="2282" r="1.2" fill="#c98a1c" />
<text x="82.4" y="2387.7" font-size="13.2" fill="#58595b" font-weight="bold" font-family="'Liberation Sans', Arial, sans-serif" textLength="159.3" lengthAdjust="spacingAndGlyphs">Service management/</text>
<text x="133.7" y="2404.2" font-size="13.2" fill="#58595b" font-weight="bold" font-family="'Liberation Sans', Arial, sans-serif" textLength="57.3" lengthAdjust="spacingAndGlyphs">support</text>
<text x="399.6" y="2380.6" font-size="13.2" fill="#58595b" font-weight="bold" font-family="'Liberation Sans', Arial, sans-serif" textLength="59" lengthAdjust="spacingAndGlyphs">Security</text>
<text x="330" y="2398.3" font-size="13.2" fill="#58595b" font-weight="bold" font-family="'Liberation Sans', Arial, sans-serif" textLength="199.4" lengthAdjust="spacingAndGlyphs">(risk monitoring/mitigation,</text>
<text x="353.6" y="2414.9" font-size="13.2" fill="#58595b" font-weight="bold" font-family="'Liberation Sans', Arial, sans-serif" textLength="152.2" lengthAdjust="spacingAndGlyphs">threat management)</text>
<defs><filter id="lsh" x="-20%" y="-20%" width="140%" height="150%"><feGaussianBlur stdDeviation="4"/></filter></defs>
<path d="M334 2475 L514 2506 L498 2624 L318 2593 Z" fill="#000" opacity="0.16" filter="url(#lsh)"/>
<path d="M332 2469 L512 2500 L494 2617 L316 2587 Z" fill="#bfe3f8" />
<path d="M332 2469 L512 2500 L510.3 2512 L330.3 2481 Z" fill="#93cdf0" />
<g transform="rotate(10 414 2545)" font-family="'DejaVu Sans', sans-serif" font-weight="bold" text-anchor="middle">
<text x="414" y="2524" font-size="28" fill="#1c5aa0" stroke="#1c5aa0" stroke-width="0.6" textLength="72" lengthAdjust="spacingAndGlyphs">85%</text>
<text x="418.0" y="2539" font-size="10.6" fill="#3b4f72" textLength="116" lengthAdjust="spacingAndGlyphs">of IT pros somewhat</text>
<text x="415.5" y="2553" font-size="10.6" fill="#3b4f72" textLength="127" lengthAdjust="spacingAndGlyphs">to strongly agree that</text>
<text x="413.0" y="2567" font-size="10.6" fill="#3b4f72" textLength="92" lengthAdjust="spacingAndGlyphs">internal process</text>
<text x="410.5" y="2581" font-size="10.6" fill="#3b4f72" textLength="148" lengthAdjust="spacingAndGlyphs">automation will make the</text>
<text x="408.0" y="2595" font-size="10.6" fill="#3b4f72" textLength="150" lengthAdjust="spacingAndGlyphs">organization more secure</text>
</g>
<text x="71.6" y="2523.6" font-size="13.4" fill="#1c4f8d" font-weight="bold" font-family="'DejaVu Sans', 'Liberation Sans', sans-serif" textLength="136.5" lengthAdjust="spacingAndGlyphs" stroke="#1c4e8c" stroke-width="0.7">WHICH SECURITY</text>
<text x="71.6" y="2540" font-size="13.4" fill="#1c4f8d" font-weight="bold" font-family="'DejaVu Sans', 'Liberation Sans', sans-serif" textLength="165.4" lengthAdjust="spacingAndGlyphs" stroke="#1c4e8c" stroke-width="0.7">CERTIFICATIONS ARE</text>
<text x="71.6" y="2556.6" font-size="13.4" fill="#1c4f8d" font-weight="bold" font-family="'DejaVu Sans', 'Liberation Sans', sans-serif" textLength="186.1" lengthAdjust="spacingAndGlyphs" stroke="#1c4e8c" stroke-width="0.7">VENDORS REQUIRED TO</text>
<text x="71.6" y="2573.1" font-size="13.4" fill="#1c4f8d" font-weight="bold" font-family="'DejaVu Sans', 'Liberation Sans', sans-serif" textLength="172.4" lengthAdjust="spacingAndGlyphs" stroke="#1c4e8c" stroke-width="0.7">OBTAIN/MAINTAIN OR</text>
<text x="71.6" y="2589.7" font-size="13.4" fill="#1c4f8d" font-weight="bold" font-family="'DejaVu Sans', 'Liberation Sans', sans-serif" textLength="216.7" lengthAdjust="spacingAndGlyphs" stroke="#1c4e8c" stroke-width="0.7">OTHERWISE COMPLY WITH?</text>
<defs><linearGradient id="bg0" x1="0" y1="0" x2="1" y2="0"><stop offset="0" stop-color="#a6ce39"/><stop offset="1" stop-color="#39b54a"/></linearGradient><linearGradient id="bg1" x1="0" y1="0" x2="1" y2="0"><stop offset="0" stop-color="#fdc054"/><stop offset="1" stop-color="#f37021"/></linearGradient><linearGradient id="bg2" x1="0" y1="0" x2="1" y2="0"><stop offset="0" stop-color="#6aa7e0"/><stop offset="1" stop-color="#2a6ebb"/></linearGradient><linearGradient id="bg3" x1="0" y1="0" x2="1" y2="0"><stop offset="0" stop-color="#fee6a8"/><stop offset="1" stop-color="#fbb93b"/></linearGradient><linearGradient id="bg4" x1="0" y1="0" x2="1" y2="0"><stop offset="0" stop-color="#dcdddf"/><stop offset="1" stop-color="#939598"/></linearGradient><linearGradient id="bg5" x1="0" y1="0" x2="1" y2="0"><stop offset="0" stop-color="#e1b5e1"/><stop offset="1" stop-color="#a855a8"/></linearGradient><linearGradient id="bg6" x1="0" y1="0" x2="1" y2="0"><stop offset="0" stop-color="#bfe3f8"/><stop offset="1" stop-color="#5cb8ea"/></linearGradient></defs>
<rect x="153" y="2623" width="96.1" height="21.2" fill="url(#bg0)" />
<text x="291.8" y="2638.7" font-size="13.6" fill="#2a7bc0" font-weight="bold" font-family="'DejaVu Sans', 'Liberation Sans', sans-serif" text-anchor="end" textLength="34.7" lengthAdjust="spacingAndGlyphs" stroke="#2a7bc0" stroke-width="0.4">53%</text>
<text x="301.3" y="2638.2" font-size="10.6" fill="#6d6e71" font-weight="bold" font-family="'DejaVu Sans', 'Liberation Sans', sans-serif" textLength="29" lengthAdjust="spacingAndGlyphs">PCI</text>
<rect x="178.3" y="2649.5" width="70.79999999999998" height="21.2" fill="url(#bg1)" />
<text x="291.8" y="2665.2" font-size="13.6" fill="#2a7bc0" font-weight="bold" font-family="'DejaVu Sans', 'Liberation Sans', sans-serif" text-anchor="end" textLength="34.7" lengthAdjust="spacingAndGlyphs" stroke="#2a7bc0" stroke-width="0.4">39%</text>
<text x="301.3" y="2664.7" font-size="10.6" fill="#6d6e71" font-weight="bold" font-family="'DejaVu Sans', 'Liberation Sans', sans-serif" textLength="37.2" lengthAdjust="spacingAndGlyphs">HIPAA</text>
<rect x="186" y="2676" width="63.099999999999994" height="21.2" fill="url(#bg2)" />
<text x="291.8" y="2691.7" font-size="13.6" fill="#2a7bc0" font-weight="bold" font-family="'DejaVu Sans', 'Liberation Sans', sans-serif" text-anchor="end" textLength="34.7" lengthAdjust="spacingAndGlyphs" stroke="#2a7bc0" stroke-width="0.4">35%</text>
<text x="301.3" y="2691.2" font-size="10.6" fill="#6d6e71" font-weight="bold" font-family="'DejaVu Sans', 'Liberation Sans', sans-serif" textLength="56.7" lengthAdjust="spacingAndGlyphs">ISO 27001</text>
<rect x="215.5" y="2703" width="33.599999999999994" height="21.2" fill="url(#bg3)" />
<text x="291.8" y="2718.7" font-size="13.6" fill="#2a7bc0" font-weight="bold" font-family="'DejaVu Sans', 'Liberation Sans', sans-serif" text-anchor="end" textLength="34.7" lengthAdjust="spacingAndGlyphs" stroke="#2a7bc0" stroke-width="0.4">19%</text>
<text x="301.3" y="2718.2" font-size="10.6" fill="#6d6e71" font-weight="bold" font-family="'DejaVu Sans', 'Liberation Sans', sans-serif" textLength="65.1" lengthAdjust="spacingAndGlyphs">SOC/I/II/III</text>
<rect x="216.7" y="2729.5" width="32.400000000000006" height="21.2" fill="url(#bg4)" />
<text x="291.8" y="2745.2" font-size="13.6" fill="#2a7bc0" font-weight="bold" font-family="'DejaVu Sans', 'Liberation Sans', sans-serif" text-anchor="end" textLength="34.7" lengthAdjust="spacingAndGlyphs" stroke="#2a7bc0" stroke-width="0.4">18%</text>
<text x="301.3" y="2744.7" font-size="10.6" fill="#6d6e71" font-weight="bold" font-family="'DejaVu Sans', 'Liberation Sans', sans-serif" textLength="48.5" lengthAdjust="spacingAndGlyphs">TRUSTE</text>
<rect x="222.6" y="2756" width="26.5" height="21.2" fill="url(#bg5)" />
<text x="291.8" y="2771.7" font-size="13.6" fill="#2a7bc0" font-weight="bold" font-family="'DejaVu Sans', 'Liberation Sans', sans-serif" text-anchor="end" textLength="34.7" lengthAdjust="spacingAndGlyphs" stroke="#2a7bc0" stroke-width="0.4">15%</text>
<text x="301.3" y="2771.2" font-size="10.6" fill="#6d6e71" font-weight="bold" font-family="'DejaVu Sans', 'Liberation Sans', sans-serif" textLength="197.3" lengthAdjust="spacingAndGlyphs">EU DATA PROTECTION DIRECTIVE</text>
<rect x="234" y="2780" width="15.099999999999994" height="21.2" fill="url(#bg6)" />
<text x="291.8" y="2795.7" font-size="13.6" fill="#2a7bc0" font-weight="bold" font-family="'DejaVu Sans', 'Liberation Sans', sans-serif" text-anchor="end" textLength="24.6" lengthAdjust="spacingAndGlyphs" stroke="#2a7bc0" stroke-width="0.4">8%</text>
<text x="301.3" y="2795.2" font-size="10.6" fill="#6d6e71" font-weight="bold" font-family="'DejaVu Sans', 'Liberation Sans', sans-serif" textLength="75.7" lengthAdjust="spacingAndGlyphs">FEDRAMP, FIPS</text>
<rect x="91" y="2709.5" width="74" height="85.5" fill="#eef1f4" rx="2"/>
<path d="M107 2718 V2708 Q107 2704 111 2704 H125 Q128 2700.5 131 2700.5 Q134 2700.5 137 2704 H151 Q155 2704 155 2708 V2718 Z" fill="#f6b042" />
<rect x="112" y="2711" width="38" height="4" fill="#f9c86b" />
<rect x="96" y="2727" width="13" height="13" fill="#e2574c" />
<rect x="113.7" y="2730" width="48.3" height="7" fill="#c8cdd2" />
<rect x="96" y="2749" width="13" height="13" fill="#e2574c" />
<rect x="113.7" y="2752" width="48.3" height="7" fill="#c8cdd2" />
<rect x="96" y="2771" width="13" height="13" fill="#e2574c" />
<rect x="113.7" y="2774" width="48.3" height="7" fill="#c8cdd2" />
<path d="M98.5 2733 L102 2737 L108 2728" fill="none" stroke="#2e3a56" stroke-width="2.4" stroke-linecap="round"/>
<path d="M98.5 2755 L102 2759 L108 2750" fill="none" stroke="#2e3a56" stroke-width="2.4" stroke-linecap="round"/>
<path d="M183 2715 L189 2719.5 L156 2773 L150 2769 Z" fill="#f6b042" />
<path d="M183 2715 L186 2717.2 L153 2771 L150 2769 Z" fill="#f9c86b" />
<path d="M183 2715 L189 2719.5 L191 2716 L185 2711.5 Z" fill="#e2574c" />
<path d="M150 2769 L156 2773 L150.5 2781 Z" fill="#f3d9b0" />
<path d="M151.3 2777.5 L153.2 2779 L150.5 2781 Z" fill="#2e3a46" />
<text x="522" y="2847.5" font-size="4.6" fill="#58595b" font-weight="normal" font-family="'Liberation Sans', Arial, sans-serif" textLength="37" lengthAdjust="spacingAndGlyphs">Source: Samanage</text>
<rect x="0" y="2863.8" width="600" height="4" fill="url(#lineSh)" />
<rect x="0" y="2855.4" width="600" height="8.4" fill="#f7941e" />
<circle cx="301.5" cy="2861.1" r="28.5" fill="#000" opacity="0.10" filter="url(#blur2)"/>
<circle cx="301.5" cy="2859.6" r="28.3" fill="#f7941e" />
<path d="M289.5 2856.6 L301.5 2867.6 L313.5 2856.6" fill="none" stroke="#fff" stroke-width="7" stroke-linecap="round" stroke-linejoin="round"/>
<text x="46.2" y="2921.5" font-size="14.4" font-weight="bold" font-family="'DejaVu Sans', 'Liberation Sans', sans-serif" fill="#1c4f8d" stroke="#1c4f8d" stroke-width="0.7" textLength="506.8" lengthAdjust="spacingAndGlyphs">ORGANIZATIONS BELIEVE IN THE <tspan fill="#39a94a" stroke="#39a94a">LONG-TERM POTENTIAL</tspan></text>
<text x="85.5" y="2940.5" font-size="14.4" font-weight="bold" font-family="'DejaVu Sans', 'Liberation Sans', sans-serif" fill="#1c4f8d" stroke="#1c4f8d" stroke-width="0.7" textLength="428.7" lengthAdjust="spacingAndGlyphs">OF AUTOMATION AND AI...BUT WHERE ARE THEY</text>
<text x="159.8" y="2959.1" font-size="14.4" font-weight="bold" font-family="'DejaVu Sans', 'Liberation Sans', sans-serif" fill="#39a94a" stroke="#39a94a" stroke-width="0.7" textLength="280" lengthAdjust="spacingAndGlyphs">INVESTING IN THE NEAR TERM?</text>
<defs>
<linearGradient id="bb" x1="0" y1="0" x2="0" y2="1"><stop offset="0" stop-color="#4bb5e8"/><stop offset="0.6" stop-color="#42afe4"/><stop offset="1" stop-color="#2a90c9"/></linearGradient>
<linearGradient id="pb" x1="0" y1="0" x2="0" y2="1"><stop offset="0" stop-color="#9a2a96"/><stop offset="0.6" stop-color="#92278f"/><stop offset="1" stop-color="#6f1d6c"/></linearGradient>
</defs>
<rect x="162.5" y="2995.4" width="114.10000000000002" height="18.6" fill="url(#bb)" />
<rect x="162.5" y="2995.4" width="11.3" height="18.6" fill="url(#pb)" />
<text x="217.0" y="3008.5" font-size="10.6" fill="#fff" font-weight="bold" font-family="'DejaVu Sans', 'Liberation Sans', sans-serif" text-anchor="middle" textLength="22" lengthAdjust="spacingAndGlyphs" stroke="#fff" stroke-width="0.3">10%</text>
<text x="156.4" y="3007.6" font-size="10.3" fill="#58595b" font-weight="normal" font-family="'Liberation Sans', Arial, sans-serif" text-anchor="end" textLength="10.6" lengthAdjust="spacingAndGlyphs" stroke="#58595b" stroke-width="0.3">AI</text>
<circle cx="291.40000000000003" cy="3005.7999999999997" r="17.2" fill="#000" opacity="0.10" filter="url(#blur2)"/>
<circle cx="290.6" cy="3004.6" r="16.4" fill="#fff" />
<circle cx="290.6" cy="3004.6" r="13.9" fill="#3ba8e0" />
<rect x="285.1" y="2999.1" width="11" height="11" fill="none" stroke="#fff" stroke-width="1.3" stroke-linejoin="round" stroke-linecap="round"/>
<path d="M287.6 2996.1v3 M290.6 2996.1v3 M293.6 2996.1v3 M287.6 3010.1v3 M290.6 3010.1v3 M293.6 3010.1v3 M282.1 3001.6h3 M282.1 3004.6h3 M282.1 3007.6h3 M296.1 3001.6h3 M296.1 3004.6h3 M296.1 3007.6h3" fill="none" stroke="#fff" stroke-width="1.3" stroke-linejoin="round" stroke-linecap="round"/>
<text x="290.6" y="3007.0" font-size="6.5" fill="#fff" font-weight="bold" font-family="'Liberation Sans', Arial, sans-serif" text-anchor="middle">AI</text>
<rect x="162.5" y="3040.0" width="114.10000000000002" height="18.6" fill="url(#bb)" />
<rect x="162.5" y="3040.0" width="30.5" height="18.6" fill="url(#pb)" />
<text x="217.0" y="3053.1" font-size="10.6" fill="#fff" font-weight="bold" font-family="'DejaVu Sans', 'Liberation Sans', sans-serif" text-anchor="middle" textLength="22" lengthAdjust="spacingAndGlyphs" stroke="#fff" stroke-width="0.3">27%</text>
<text x="156.4" y="3052.2" font-size="10.3" fill="#58595b" font-weight="normal" font-family="'Liberation Sans', Arial, sans-serif" text-anchor="end" textLength="43.1" lengthAdjust="spacingAndGlyphs" stroke="#58595b" stroke-width="0.3">Big Data</text>
<circle cx="291.40000000000003" cy="3050.3999999999996" r="17.2" fill="#000" opacity="0.10" filter="url(#blur2)"/>
<circle cx="290.6" cy="3049.2" r="16.4" fill="#fff" />
<circle cx="290.6" cy="3049.2" r="13.9" fill="#3ba8e0" />
<ellipse cx="290.6" cy="3050.2" rx="9" ry="3.5" fill="none" stroke="#fff" stroke-width="1.3" stroke-linejoin="round" stroke-linecap="round"/>
<rect x="287.1" y="3043.2" width="7" height="9" fill="#fff" rx="1.5"/>
<rect x="162.5" y="3084.5" width="114.10000000000002" height="18.6" fill="url(#bb)" />
<rect x="162.5" y="3084.5" width="15.8" height="18.6" fill="url(#pb)" />
<text x="217.0" y="3097.6" font-size="10.6" fill="#fff" font-weight="bold" font-family="'DejaVu Sans', 'Liberation Sans', sans-serif" text-anchor="middle" textLength="22" lengthAdjust="spacingAndGlyphs" stroke="#fff" stroke-width="0.3">14%</text>
<text x="156.4" y="3096.7" font-size="10.3" fill="#58595b" font-weight="normal" font-family="'Liberation Sans', Arial, sans-serif" text-anchor="end" textLength="24.3" lengthAdjust="spacingAndGlyphs" stroke="#58595b" stroke-width="0.3">BSM</text>
<circle cx="291.40000000000003" cy="3094.8999999999996" r="17.2" fill="#000" opacity="0.10" filter="url(#blur2)"/>
<circle cx="290.6" cy="3093.7" r="16.4" fill="#fff" />
<circle cx="290.6" cy="3093.7" r="13.9" fill="#3ba8e0" />
<rect x="284.6" y="3086.7" width="9" height="13" fill="#fff" />
<rect x="286.1" y="3089.7" width="6" height="0.9" fill="#3ba8e0" />
<rect x="286.1" y="3092.2" width="6" height="0.9" fill="#3ba8e0" />
<rect x="286.1" y="3094.7" width="6" height="0.9" fill="#3ba8e0" />
<circle cx="294.1" cy="3096.7" r="3.6" fill="#fff" />
<circle cx="294.1" cy="3096.7" r="1.3" fill="#3ba8e0" />
<rect x="162.5" y="3129.0" width="114.10000000000002" height="18.6" fill="url(#bb)" />
<rect x="162.5" y="3129.0" width="12.4" height="18.6" fill="url(#pb)" />
<text x="217.0" y="3142.1" font-size="10.6" fill="#fff" font-weight="bold" font-family="'DejaVu Sans', 'Liberation Sans', sans-serif" text-anchor="middle" textLength="22" lengthAdjust="spacingAndGlyphs" stroke="#fff" stroke-width="0.3">11%</text>
<text x="156.4" y="3141.2" font-size="10.3" fill="#58595b" font-weight="normal" font-family="'Liberation Sans', Arial, sans-serif" text-anchor="end" textLength="44.9" lengthAdjust="spacingAndGlyphs" stroke="#58595b" stroke-width="0.3">Chatbots</text>
<circle cx="291.40000000000003" cy="3139.3999999999996" r="17.2" fill="#000" opacity="0.10" filter="url(#blur2)"/>
<circle cx="290.6" cy="3138.2" r="16.4" fill="#fff" />
<circle cx="290.6" cy="3138.2" r="13.9" fill="#3ba8e0" />
<rect x="284.6" y="3130.2" width="9" height="7" fill="#fff" rx="1"/>
<path d="M284.6 3143.2 Q290.6 3137.2 298.6 3139.2 L293.6 3142.2 Q290.6 3145.2 284.6 3143.2 Z" fill="#fff"/>
<rect x="162.5" y="3173.6000000000004" width="114.10000000000002" height="18.6" fill="url(#bb)" />
<rect x="162.5" y="3173.6000000000004" width="72.2" height="18.6" fill="url(#pb)" />
<text x="217.0" y="3186.7000000000003" font-size="10.6" fill="#fff" font-weight="bold" font-family="'DejaVu Sans', 'Liberation Sans', sans-serif" text-anchor="middle" textLength="22" lengthAdjust="spacingAndGlyphs" stroke="#fff" stroke-width="0.3">64%</text>
<text x="156.4" y="3185.8" font-size="10.3" fill="#58595b" font-weight="normal" font-family="'Liberation Sans', Arial, sans-serif" text-anchor="end" textLength="91.7" lengthAdjust="spacingAndGlyphs" stroke="#58595b" stroke-width="0.3">Cloud applications</text>
<circle cx="291.40000000000003" cy="3184.0" r="17.2" fill="#000" opacity="0.10" filter="url(#blur2)"/>
<circle cx="290.6" cy="3182.8" r="16.4" fill="#fff" />
<circle cx="290.6" cy="3182.8" r="13.9" fill="#3ba8e0" />
<path d="M283.6 3183.8 A3.5 3.5 0 0 1 285.6 3178.8 A5 5 0 0 1 294.6 3177.8 A3.8 3.8 0 0 1 297.6 3183.8 Z" fill="#fff"/>
<path d="M284.6 3186.8 Q290.6 3190.8 296.6 3186.8 M286.6 3185.3 Q290.6 3187.8 294.6 3185.3" fill="none" stroke="#fff" stroke-width="1.3" stroke-linejoin="round" stroke-linecap="round"/>
<rect x="162.5" y="3218.1000000000004" width="114.10000000000002" height="18.6" fill="url(#bb)" />
<rect x="162.5" y="3218.1000000000004" width="5.6" height="18.6" fill="url(#pb)" />
<text x="217.0" y="3231.2000000000003" font-size="10.6" fill="#fff" font-weight="bold" font-family="'DejaVu Sans', 'Liberation Sans', sans-serif" text-anchor="middle" textLength="15.5" lengthAdjust="spacingAndGlyphs" stroke="#fff" stroke-width="0.3">5%</text>
<text x="156.4" y="3230.3" font-size="10.3" fill="#58595b" font-weight="normal" font-family="'Liberation Sans', Arial, sans-serif" text-anchor="end" textLength="91.1" lengthAdjust="spacingAndGlyphs" stroke="#58595b" stroke-width="0.3">Cognitive systems</text>
<circle cx="291.40000000000003" cy="3228.5" r="17.2" fill="#000" opacity="0.10" filter="url(#blur2)"/>
<circle cx="290.6" cy="3227.3" r="16.4" fill="#fff" />
<circle cx="290.6" cy="3227.3" r="13.9" fill="#3ba8e0" />
<path d="M284.6 3225.3 H296.6 L292.6 3231.3 V3235.3 H288.6 V3231.3 Z" fill="none" stroke="#fff" stroke-width="1.3" stroke-linejoin="round" stroke-linecap="round"/>
<path d="M286.6 3223.3 Q290.6 3217.3 294.6 3223.3" fill="none" stroke="#fff" stroke-width="1.3" stroke-linejoin="round" stroke-linecap="round"/>
<rect x="162.5" y="3262.7000000000003" width="114.10000000000002" height="18.6" fill="url(#bb)" />
<rect x="162.5" y="3262.7000000000003" width="32.7" height="18.6" fill="url(#pb)" />
<text x="217.0" y="3275.8" font-size="10.6" fill="#fff" font-weight="bold" font-family="'DejaVu Sans', 'Liberation Sans', sans-serif" text-anchor="middle" textLength="22" lengthAdjust="spacingAndGlyphs" stroke="#fff" stroke-width="0.3">29%</text>
<text x="156.4" y="3269.0" font-size="10.3" fill="#58595b" font-weight="normal" font-family="'Liberation Sans', Arial, sans-serif" text-anchor="end" textLength="139.8" lengthAdjust="spacingAndGlyphs" stroke="#58595b" stroke-width="0.3">Collaboration and employee</text>
<text x="156.4" y="3280.8" font-size="10.3" fill="#58595b" font-weight="normal" font-family="'Liberation Sans', Arial, sans-serif" text-anchor="end" textLength="86.1" lengthAdjust="spacingAndGlyphs" stroke="#58595b" stroke-width="0.3">social networking</text>
<circle cx="291.40000000000003" cy="3273.1" r="17.2" fill="#000" opacity="0.10" filter="url(#blur2)"/>
<circle cx="290.6" cy="3271.9" r="16.4" fill="#fff" />
<circle cx="290.6" cy="3271.9" r="13.9" fill="#3ba8e0" />
<circle cx="285.6" cy="3266.9" r="3" fill="#fff" />
<circle cx="295.6" cy="3272.9" r="2.6" fill="#fff" />
<circle cx="290.6" cy="3271.4" r="2.2" fill="#fff" />
<path d="M286.1 3279.9 A4.5 4.5 0 0 1 295.1 3279.9 Z" fill="#fff"/>
<rect x="162.5" y="3307.2000000000003" width="114.10000000000002" height="18.6" fill="url(#bb)" />
<rect x="162.5" y="3307.2000000000003" width="35.0" height="18.6" fill="url(#pb)" />
<text x="217.0" y="3320.3" font-size="10.6" fill="#fff" font-weight="bold" font-family="'DejaVu Sans', 'Liberation Sans', sans-serif" text-anchor="middle" textLength="22" lengthAdjust="spacingAndGlyphs" stroke="#fff" stroke-width="0.3">31%</text>
<text x="156.4" y="3313.5" font-size="10.3" fill="#58595b" font-weight="normal" font-family="'Liberation Sans', Arial, sans-serif" text-anchor="end" textLength="106.7" lengthAdjust="spacingAndGlyphs" stroke="#58595b" stroke-width="0.3">Customer experience</text>
<text x="156.4" y="3325.3" font-size="10.3" fill="#58595b" font-weight="normal" font-family="'Liberation Sans', Arial, sans-serif" text-anchor="end" textLength="116.7" lengthAdjust="spacingAndGlyphs" stroke="#58595b" stroke-width="0.3">and customer feedback</text>
<circle cx="291.40000000000003" cy="3317.6" r="17.2" fill="#000" opacity="0.10" filter="url(#blur2)"/>
<circle cx="290.6" cy="3316.4" r="16.4" fill="#fff" />
<circle cx="290.6" cy="3316.4" r="13.9" fill="#3ba8e0" />
<circle cx="286.1" cy="3312.4" r="2.2" fill="#fff" />
<circle cx="295.1" cy="3315.4" r="2.2" fill="#fff" />
<path d="M282.6 3318.4 A3.5 3.5 0 0 1 289.6 3318.4 Z M291.6 3322.4 A3.5 3.5 0 0 1 298.6 3322.4 Z" fill="#fff"/>
<path d="M289.6 3323.4 L291.6 3309.4" fill="none" stroke="#fff" stroke-width="1.3" stroke-linejoin="round" stroke-linecap="round"/>
<rect x="162.5" y="3351.8" width="114.10000000000002" height="18.6" fill="url(#bb)" />
<rect x="162.5" y="3351.8" width="36.1" height="18.6" fill="url(#pb)" />
<text x="217.0" y="3364.9" font-size="10.6" fill="#fff" font-weight="bold" font-family="'DejaVu Sans', 'Liberation Sans', sans-serif" text-anchor="middle" textLength="22" lengthAdjust="spacingAndGlyphs" stroke="#fff" stroke-width="0.3">32%</text>
<text x="156.4" y="3358.1" font-size="10.3" fill="#58595b" font-weight="normal" font-family="'Liberation Sans', Arial, sans-serif" text-anchor="end" textLength="98.6" lengthAdjust="spacingAndGlyphs" stroke="#58595b" stroke-width="0.3">In-house developed</text>
<text x="156.4" y="3369.9" font-size="10.3" fill="#58595b" font-weight="normal" font-family="'Liberation Sans', Arial, sans-serif" text-anchor="end" textLength="128.5" lengthAdjust="spacingAndGlyphs" stroke="#58595b" stroke-width="0.3">applications (homegrown)</text>
<circle cx="291.40000000000003" cy="3362.2" r="17.2" fill="#000" opacity="0.10" filter="url(#blur2)"/>
<circle cx="290.6" cy="3361.0" r="16.4" fill="#fff" />
<circle cx="290.6" cy="3361.0" r="13.9" fill="#3ba8e0" />
<rect x="282.6" y="3355.0" width="16" height="10.5" fill="#fff" />
<rect x="284.1" y="3356.5" width="6.5" height="7.5" fill="#3ba8e0" />
<rect x="288.6" y="3366.5" width="4" height="2" fill="#fff" />
<rect x="286.1" y="3368.0" width="9" height="1.2" fill="#fff" />
<rect x="426.2" y="2995.4" width="114.80000000000001" height="18.6" fill="url(#bb)" />
<rect x="426.2" y="2995.4" width="11.3" height="18.6" fill="url(#pb)" />
<text x="480.7" y="3008.5" font-size="10.6" fill="#fff" font-weight="bold" font-family="'DejaVu Sans', 'Liberation Sans', sans-serif" text-anchor="middle" textLength="22" lengthAdjust="spacingAndGlyphs" stroke="#fff" stroke-width="0.3">10%</text>
<text x="422" y="3001.7" font-size="10.3" fill="#58595b" font-weight="normal" font-family="'Liberation Sans', Arial, sans-serif" text-anchor="end" textLength="42.4" lengthAdjust="spacingAndGlyphs" stroke="#58595b" stroke-width="0.3">Machine</text>
<text x="422" y="3013.5" font-size="10.3" fill="#58595b" font-weight="normal" font-family="'Liberation Sans', Arial, sans-serif" text-anchor="end" textLength="39.9" lengthAdjust="spacingAndGlyphs" stroke="#58595b" stroke-width="0.3">learning</text>
<circle cx="555.8" cy="3005.7999999999997" r="17.2" fill="#000" opacity="0.10" filter="url(#blur2)"/>
<circle cx="555" cy="3004.6" r="16.4" fill="#fff" />
<circle cx="555" cy="3004.6" r="13.9" fill="#3ba8e0" />
<rect x="547.5" y="2998.6" width="15" height="10" fill="#fff" rx="1"/>
<rect x="553.5" y="3008.6" width="3" height="3" fill="#fff" />
<rect x="551" y="3011.1" width="8" height="1.2" fill="#fff" />
<circle cx="555" cy="3003.6" r="2.5" fill="#3ba8e0" />
<rect x="426.2" y="3040.0" width="114.80000000000001" height="18.6" fill="url(#bb)" />
<rect x="426.2" y="3040.0" width="30.5" height="18.6" fill="url(#pb)" />
<text x="480.7" y="3053.1" font-size="10.6" fill="#fff" font-weight="bold" font-family="'DejaVu Sans', 'Liberation Sans', sans-serif" text-anchor="middle" textLength="22" lengthAdjust="spacingAndGlyphs" stroke="#fff" stroke-width="0.3">27%</text>
<text x="422" y="3046.2999999999997" font-size="10.3" fill="#58595b" font-weight="normal" font-family="'Liberation Sans', Arial, sans-serif" text-anchor="end" textLength="68.6" lengthAdjust="spacingAndGlyphs" stroke="#58595b" stroke-width="0.3">Mobilizing the</text>
<text x="422" y="3058.1" font-size="10.3" fill="#58595b" font-weight="normal" font-family="'Liberation Sans', Arial, sans-serif" text-anchor="end" textLength="49.9" lengthAdjust="spacingAndGlyphs" stroke="#58595b" stroke-width="0.3">enterprise</text>
<circle cx="555.8" cy="3050.3999999999996" r="17.2" fill="#000" opacity="0.10" filter="url(#blur2)"/>
<circle cx="555" cy="3049.2" r="16.4" fill="#fff" />
<circle cx="555" cy="3049.2" r="13.9" fill="#3ba8e0" />
<rect x="551.5" y="3041.7" width="7" height="14" rx="1" fill="none" stroke="#fff" stroke-width="1.3" stroke-linejoin="round" stroke-linecap="round"/>
<path d="M547 3046.2 H550.5 M559.5 3052.2 H563 M549 3044.2 L547 3046.2 L549 3048.2 M561 3050.2 L563 3052.2 L561 3054.2" fill="none" stroke="#fff" stroke-width="1.3" stroke-linejoin="round" stroke-linecap="round"/>
<rect x="426.2" y="3084.5" width="114.80000000000001" height="18.6" fill="url(#bb)" />
<rect x="426.2" y="3084.5" width="22.6" height="18.6" fill="url(#pb)" />
<text x="480.7" y="3097.6" font-size="10.6" fill="#fff" font-weight="bold" font-family="'DejaVu Sans', 'Liberation Sans', sans-serif" text-anchor="middle" textLength="22" lengthAdjust="spacingAndGlyphs" stroke="#fff" stroke-width="0.3">20%</text>
<text x="422" y="3090.7999999999997" font-size="10.3" fill="#58595b" font-weight="normal" font-family="'Liberation Sans', Arial, sans-serif" text-anchor="end" textLength="64.3" lengthAdjust="spacingAndGlyphs" stroke="#58595b" stroke-width="0.3">On-premises</text>
<text x="422" y="3102.6" font-size="10.3" fill="#58595b" font-weight="normal" font-family="'Liberation Sans', Arial, sans-serif" text-anchor="end" textLength="59.3" lengthAdjust="spacingAndGlyphs" stroke="#58595b" stroke-width="0.3">applications</text>
<circle cx="555.8" cy="3094.8999999999996" r="17.2" fill="#000" opacity="0.10" filter="url(#blur2)"/>
<circle cx="555" cy="3093.7" r="16.4" fill="#fff" />
<circle cx="555" cy="3093.7" r="13.9" fill="#3ba8e0" />
<rect x="547.5" y="3087.7" width="15" height="10" fill="none" stroke="#fff" stroke-width="1.3" stroke-linejoin="round" stroke-linecap="round"/>
<path d="M550 3094.7 L553 3091.7 L556 3093.7 L560 3089.7 M552 3100.7 H558" fill="none" stroke="#fff" stroke-width="1.3" stroke-linejoin="round" stroke-linecap="round"/>
<rect x="426.2" y="3129.0" width="114.80000000000001" height="18.6" fill="url(#bb)" />
<rect x="426.2" y="3129.0" width="19.2" height="18.6" fill="url(#pb)" />
<text x="480.7" y="3142.1" font-size="10.6" fill="#fff" font-weight="bold" font-family="'DejaVu Sans', 'Liberation Sans', sans-serif" text-anchor="middle" textLength="22" lengthAdjust="spacingAndGlyphs" stroke="#fff" stroke-width="0.3">17%</text>
<text x="422" y="3135.2999999999997" font-size="10.3" fill="#58595b" font-weight="normal" font-family="'Liberation Sans', Arial, sans-serif" text-anchor="end" textLength="49.3" lengthAdjust="spacingAndGlyphs" stroke="#58595b" stroke-width="0.3">Predictive</text>
<text x="422" y="3147.1" font-size="10.3" fill="#58595b" font-weight="normal" font-family="'Liberation Sans', Arial, sans-serif" text-anchor="end" textLength="43.7" lengthAdjust="spacingAndGlyphs" stroke="#58595b" stroke-width="0.3">analytics</text>
<circle cx="555.8" cy="3139.3999999999996" r="17.2" fill="#000" opacity="0.10" filter="url(#blur2)"/>
<circle cx="555" cy="3138.2" r="16.4" fill="#fff" />
<circle cx="555" cy="3138.2" r="13.9" fill="#3ba8e0" />
<rect x="548" y="3140.2" width="2.6" height="4" fill="#fff" />
<rect x="552" y="3138.2" width="2.6" height="6" fill="#fff" />
<rect x="556" y="3136.2" width="2.6" height="8" fill="#fff" />
<rect x="560" y="3134.2" width="2.6" height="10" fill="#fff" />
<path d="M548 3136.2 L553 3133.2 L557 3135.2 L562 3130.2" fill="none" stroke="#fff" stroke-width="1.3" stroke-linejoin="round" stroke-linecap="round"/>
<rect x="426.2" y="3173.6000000000004" width="114.80000000000001" height="18.6" fill="url(#bb)" />
<rect x="426.2" y="3173.6000000000004" width="53.0" height="18.6" fill="url(#pb)" />
<text x="480.7" y="3186.7000000000003" font-size="10.6" fill="#fff" font-weight="bold" font-family="'DejaVu Sans', 'Liberation Sans', sans-serif" text-anchor="middle" textLength="22" lengthAdjust="spacingAndGlyphs" stroke="#fff" stroke-width="0.3">47%</text>
<text x="422" y="3179.9" font-size="10.3" fill="#58595b" font-weight="normal" font-family="'Liberation Sans', Arial, sans-serif" text-anchor="end" textLength="37.4" lengthAdjust="spacingAndGlyphs" stroke="#58595b" stroke-width="0.3">Service</text>
<text x="422" y="3191.7000000000003" font-size="10.3" fill="#58595b" font-weight="normal" font-family="'Liberation Sans', Arial, sans-serif" text-anchor="end" textLength="55.5" lengthAdjust="spacingAndGlyphs" stroke="#58595b" stroke-width="0.3">automation</text>
<circle cx="555.8" cy="3184.0" r="17.2" fill="#000" opacity="0.10" filter="url(#blur2)"/>
<circle cx="555" cy="3182.8" r="16.4" fill="#fff" />
<circle cx="555" cy="3182.8" r="13.9" fill="#3ba8e0" />
<circle cx="555" cy="3182.8" r="7" fill="none" stroke="#fff" stroke-width="1.3"/>
<circle cx="555" cy="3180.8" r="2" fill="#fff" />
<circle cx="551.5" cy="3184.8" r="1.6" fill="#fff" />
<circle cx="558.5" cy="3184.8" r="1.6" fill="#fff" />
<path d="M546 3191.8 H564" fill="none" stroke="#fff" stroke-width="1.3" stroke-linejoin="round" stroke-linecap="round"/>
<rect x="426.2" y="3218.1000000000004" width="114.80000000000001" height="18.6" fill="url(#bb)" />
<rect x="426.2" y="3218.1000000000004" width="14.7" height="18.6" fill="url(#pb)" />
<text x="480.7" y="3231.2000000000003" font-size="10.6" fill="#fff" font-weight="bold" font-family="'DejaVu Sans', 'Liberation Sans', sans-serif" text-anchor="middle" textLength="22" lengthAdjust="spacingAndGlyphs" stroke="#fff" stroke-width="0.3">13%</text>
<text x="422" y="3224.4" font-size="10.3" fill="#58595b" font-weight="normal" font-family="'Liberation Sans', Arial, sans-serif" text-anchor="end" textLength="72.2" lengthAdjust="spacingAndGlyphs" stroke="#58595b" stroke-width="0.3">Virtual support</text>
<text x="422" y="3236.2000000000003" font-size="10.3" fill="#58595b" font-weight="normal" font-family="'Liberation Sans', Arial, sans-serif" text-anchor="end" textLength="33.7" lengthAdjust="spacingAndGlyphs" stroke="#58595b" stroke-width="0.3">agents</text>
<circle cx="555.8" cy="3228.5" r="17.2" fill="#000" opacity="0.10" filter="url(#blur2)"/>
<circle cx="555" cy="3227.3" r="16.4" fill="#fff" />
<circle cx="555" cy="3227.3" r="13.9" fill="#3ba8e0" />
<path d="M548 3227.3 A3.5 3.5 0 0 1 550 3222.3 A5 5 0 0 1 559 3221.3 A3.8 3.8 0 0 1 562 3227.3 Z" fill="#fff"/>
<path d="M551 3228.3 V3233.3 M555 3228.3 V3234.3 M559 3228.3 V3233.3" fill="none" stroke="#fff" stroke-width="1.3" stroke-linejoin="round" stroke-linecap="round"/>
<rect x="426.2" y="3262.7000000000003" width="114.80000000000001" height="18.6" fill="url(#bb)" />
<rect x="426.2" y="3262.7000000000003" width="7.9" height="18.6" fill="url(#pb)" />
<text x="480.7" y="3275.8" font-size="10.6" fill="#fff" font-weight="bold" font-family="'DejaVu Sans', 'Liberation Sans', sans-serif" text-anchor="middle" textLength="15.5" lengthAdjust="spacingAndGlyphs" stroke="#fff" stroke-width="0.3">7%</text>
<text x="422" y="3269.0" font-size="10.3" fill="#58595b" font-weight="normal" font-family="'Liberation Sans', Arial, sans-serif" text-anchor="end" textLength="75.9" lengthAdjust="spacingAndGlyphs" stroke="#58595b" stroke-width="0.3">Other (security,</text>
<text x="422" y="3280.8" font-size="10.3" fill="#58595b" font-weight="normal" font-family="'Liberation Sans', Arial, sans-serif" text-anchor="end" textLength="101.1" lengthAdjust="spacingAndGlyphs" stroke="#58595b" stroke-width="0.3">CRM, live chat, etc.)</text>
<circle cx="555.8" cy="3273.1" r="17.2" fill="#000" opacity="0.10" filter="url(#blur2)"/>
<circle cx="555" cy="3271.9" r="16.4" fill="#fff" />
<circle cx="555" cy="3271.9" r="13.9" fill="#3ba8e0" />
<path d="M550 3278.9 V3269.9 A5 5 0 0 1 560 3269.9 V3278.9 M552.5 3278.9 V3269.9 A2.5 2.5 0 0 1 557.5 3269.9 V3278.9 M555 3269.9 V3278.9" fill="none" stroke="#fff" stroke-width="1.3" stroke-linejoin="round" stroke-linecap="round"/>
<rect x="426.2" y="3307.2000000000003" width="114.80000000000001" height="18.6" fill="url(#bb)" />
<rect x="426.2" y="3307.2000000000003" width="10.2" height="18.6" fill="url(#pb)" />
<text x="480.7" y="3320.3" font-size="10.6" fill="#fff" font-weight="bold" font-family="'DejaVu Sans', 'Liberation Sans', sans-serif" text-anchor="middle" textLength="15.5" lengthAdjust="spacingAndGlyphs" stroke="#fff" stroke-width="0.3">9%</text>
<text x="422" y="3319.4" font-size="10.3" fill="#58595b" font-weight="normal" font-family="'Liberation Sans', Arial, sans-serif" text-anchor="end" textLength="44.3" lengthAdjust="spacingAndGlyphs" stroke="#58595b" stroke-width="0.3">No plans</text>
<circle cx="555.8" cy="3317.6" r="17.2" fill="#000" opacity="0.10" filter="url(#blur2)"/>
<circle cx="555" cy="3316.4" r="16.4" fill="#fff" />
<circle cx="555" cy="3316.4" r="13.9" fill="#3ba8e0" />
<circle cx="555" cy="3316.4" r="6.5" fill="none" stroke="#fff" stroke-width="1.6"/>
<path d="M559.6 3311.8 L550.4 3321.0" fill="none" stroke="#fff" stroke-width="1.3" stroke-linejoin="round" stroke-linecap="round" stroke-width="1.6"/>
<text x="546" y="3401" font-size="4.6" fill="#58595b" font-weight="normal" font-family="'Liberation Sans', Arial, sans-serif" textLength="28" lengthAdjust="spacingAndGlyphs">Source: HDI</text>
<rect x="0" y="3427.2" width="600" height="4" fill="url(#lineSh)" />
<rect x="0" y="3418.8" width="600" height="8.4" fill="#f7941e" />
<circle cx="301.5" cy="3424.5" r="28.5" fill="#000" opacity="0.10" filter="url(#blur2)"/>
<circle cx="301.5" cy="3423" r="28.3" fill="#f7941e" />
<path d="M289.5 3420 L301.5 3431 L313.5 3420" fill="none" stroke="#fff" stroke-width="7" stroke-linecap="round" stroke-linejoin="round"/>
<rect x="21" y="3484.9" width="553.4" height="186.29999999999973" fill="#d5ecfa" />
<text x="42.9" y="3511.4" font-size="14" fill="#1b5ca4" font-weight="bold" font-family="'DejaVu Sans', 'Liberation Sans', sans-serif" textLength="284" lengthAdjust="spacingAndGlyphs" stroke="#1b5ca4" stroke-width="0.7">ONE FEAR ABOUT AUTOMATION</text>
<text x="42.9" y="3529.5" font-size="14" fill="#1b5ca4" font-weight="bold" font-family="'DejaVu Sans', 'Liberation Sans', sans-serif" textLength="242.6" lengthAdjust="spacingAndGlyphs" stroke="#1b5ca4" stroke-width="0.7">IS THAT IT WILL KILL JOBS...</text>
<text x="43.3" y="3558.6" font-size="14.6" fill="#6d6e71" font-family="'Liberation Sans', Arial, sans-serif" textLength="490.3" lengthAdjust="spacingAndGlyphs">IT pros aren’t as concerned about jobs being eliminated <tspan font-weight="bold">(11%)</tspan> as pundits</text>
<text x="43.3" y="3574" font-size="14.6" fill="#6d6e71" font-family="'Liberation Sans', Arial, sans-serif" textLength="485" lengthAdjust="spacingAndGlyphs">would have us believe. Rather, IT pros expect automation to change the</text>
<text x="43.3" y="3589.6" font-size="14.6" fill="#6d6e71" font-family="'Liberation Sans', Arial, sans-serif" textLength="381.7" lengthAdjust="spacingAndGlyphs">nature of jobs in IT <tspan font-weight="bold">(38%)</tspan> and across the business <tspan font-weight="bold">(16%)</tspan>.</text>
<text x="43.3" y="3619.3" font-size="14.6" fill="#6d6e71" font-weight="normal" font-family="'Liberation Sans', Arial, sans-serif" textLength="459.3" lengthAdjust="spacingAndGlyphs">And, in fact, headcount has decreased only in a small percentage of</text>
<text x="43.3" y="3634.4" font-size="14.6" fill="#6d6e71" font-weight="normal" font-family="'Liberation Sans', Arial, sans-serif" textLength="457.3" lengthAdjust="spacingAndGlyphs">organizations. In most cases, the work has simply changed; it hasn’t</text>
<text x="43.3" y="3649.5" font-size="14.6" fill="#6d6e71" font-weight="normal" font-family="'Liberation Sans', Arial, sans-serif" textLength="74.5" lengthAdjust="spacingAndGlyphs">gone away.</text>
<ellipse cx="383" cy="3532" rx="42" ry="2" fill="#c9d7e0" opacity="0.7"/>
<ellipse cx="490" cy="3532" rx="62" ry="2" fill="#c9d7e0" opacity="0.7"/>
<ellipse cx="354.6" cy="3504" rx="3.6" ry="11.5" transform="rotate(-12 354.6 3504)" fill="#1e7bc4"/>
<path d="M354 3514 H374.5 V3518 H356 Z" fill="#1e7bc4" />
<rect x="364.2" y="3517" width="2.2" height="9.5" fill="#1e7bc4" />
<path d="M356 3530 L365.2 3525.5 L376 3530" fill="none" stroke="#1e7bc4" stroke-width="2"/>
<circle cx="356.5" cy="3530.5" r="1.3" fill="#1e7bc4" />
<circle cx="376" cy="3530.5" r="1.3" fill="#1e7bc4" />
<circle cx="365.2" cy="3531" r="1.3" fill="#1e7bc4" />
<rect x="383.8" y="3504.8" width="35.8" height="3.4" fill="#1e7bc4" />
<rect x="386.5" y="3508" width="30.5" height="23.4" fill="#1e7bc4" />
<path d="M390 3514 H413 M390 3521 H413" fill="none" stroke="#5aa6dd" stroke-width="0.8"/>
<path d="M398.4 3504.8 L403.7 3478.3" fill="none" stroke="#1e7bc4" stroke-width="2.6" stroke-linecap="round"/>
<path d="M398.4 3504.8 L406 3504.8 L401 3494" fill="none" stroke="#1e7bc4" stroke-width="1.6"/>
<circle cx="467.8" cy="3447.4" r="1.8" fill="#1e7bc4" />
<rect x="467.2" y="3448.5" width="1.2" height="4.5" fill="#1e7bc4" />
<rect x="459" y="3452.7" width="18.5" height="21.3" fill="#1e7bc4" rx="5"/>
<circle cx="464" cy="3460.5" r="2.5" fill="#fff" />
<circle cx="472.5" cy="3460.5" r="2.5" fill="#fff" />
<circle cx="464" cy="3460.5" r="1" fill="#1e7bc4" />
<circle cx="472.5" cy="3460.5" r="1" fill="#1e7bc4" />
<rect x="463.5" y="3466" width="10" height="3.5" fill="#fff" rx="1"/>
<path d="M455.4 3476 H479.7 L477 3498 H458 Z" fill="#1e7bc4" />
<path d="M467.5 3476 L466 3494" fill="none" stroke="#fff" stroke-width="1"/>
<path d="M457 3480 L440 3483 L436 3493" fill="none" stroke="#1e7bc4" stroke-width="4" stroke-linecap="round" stroke-linejoin="round"/>
<rect x="431" y="3496" width="11" height="14" fill="#1e7bc4" rx="1"/>
<path d="M434 3496 V3493 H439 V3496" fill="none" stroke="#1e7bc4" stroke-width="1.2"/>
<path d="M478 3480 L492 3481" fill="none" stroke="#1e7bc4" stroke-width="4" stroke-linecap="round"/>
<path d="M489 3479 A7 7 0 1 1 500 3472" fill="none" stroke="#1e7bc4" stroke-width="4" stroke-linecap="round"/>
<path d="M462 3497 L456 3518 L460 3528 H471" fill="none" stroke="#1e7bc4" stroke-width="6" stroke-linecap="round" stroke-linejoin="round"/>
<path d="M472 3497 L486 3505 L500 3500" fill="none" stroke="#1e7bc4" stroke-width="6" stroke-linecap="round" stroke-linejoin="round"/>
<path d="M496 3502 L505 3497 L502.5 3493" fill="none" stroke="#1e7bc4" stroke-width="4" stroke-linecap="round" stroke-linejoin="round"/>
<path d="M497 3492 L500 3487 L502 3491 L506 3488 L505.5 3493 L510 3493 L506.5 3497 L510 3500" fill="none" stroke="#2e3a46" stroke-width="0.8"/>
<path d="M503 3505 Q 492 3515 482 3528" fill="none" stroke="#8fb7d6" stroke-width="0.7"/>
<circle cx="519.8" cy="3470.4" r="6.6" fill="#1e7bc4" />
<path d="M516 3468 A3 3 0 0 1 522 3468" fill="none" stroke="#fff" stroke-width="1"/>
<path d="M519 3478 C 526 3480 531 3490 533 3508 L521 3510 C 518 3498 515 3488 519 3478 Z" fill="#1e7bc4" />
<path d="M524 3509 L517 3519 L514 3528 M531 3508 L537 3518 L532 3529" fill="none" stroke="#1e7bc4" stroke-width="5" stroke-linecap="round" stroke-linejoin="round"/>
<path d="M526 3486 L538 3498" fill="none" stroke="#1e7bc4" stroke-width="3.5" stroke-linecap="round"/>
<path d="M539.5 3496 L554 3492 L557 3506 L542.5 3510 Z" fill="#1e7bc4" />
<path d="M543 3494.5 L542 3491.5 L548 3490 L549 3493" fill="none" stroke="#1e7bc4" stroke-width="1"/>
<path d="M545 3497 L552 3495 M546 3500 L553 3498" fill="none" stroke="#5aa6dd" stroke-width="0.7"/>
<rect x="20.8" y="3678" width="553.6" height="41.59999999999991" fill="#fef6e0" />
<rect x="20.8" y="3726.2" width="553.6" height="42.0" fill="#fef6e0" />
<rect x="20.8" y="3774.9" width="553.6" height="42.0" fill="#fef6e0" />
<rect x="20.8" y="3823.6" width="553.6" height="42.0" fill="#fef6e0" />
<text x="397.1" y="3705" text-anchor="end" font-family="'DejaVu Sans', 'Liberation Sans', sans-serif" font-weight="bold" textLength="196.8" lengthAdjust="spacingAndGlyphs"><tspan font-size="10.6" fill="#3aa8df" stroke="#3aa8df" stroke-width="0.55">INCREASED HEADCOUNT = </tspan><tspan font-size="14" fill="#1f74ba" stroke="#1f74ba" stroke-width="0.7">12%</tspan></text>
<text x="397.1" y="3753.3" text-anchor="end" font-family="'DejaVu Sans', 'Liberation Sans', sans-serif" font-weight="bold" textLength="195.5" lengthAdjust="spacingAndGlyphs"><tspan font-size="10.6" fill="#3aa8df" stroke="#3aa8df" stroke-width="0.55">DECREASED HEADCOUNT = </tspan><tspan font-size="14" fill="#1f74ba" stroke="#1f74ba" stroke-width="0.7">8%</tspan></text>
<text x="397.1" y="3801.6" text-anchor="end" font-family="'DejaVu Sans', 'Liberation Sans', sans-serif" font-weight="bold" textLength="349.5" lengthAdjust="spacingAndGlyphs"><tspan font-size="10.6" fill="#3aa8df" stroke="#3aa8df" stroke-width="0.55">HEADCOUNT WAS REASSIGNED TO OTHER TASKS = </tspan><tspan font-size="14" fill="#1f74ba" stroke="#1f74ba" stroke-width="0.7">45%</tspan></text>
<text x="397.1" y="3850.8" text-anchor="end" font-family="'DejaVu Sans', 'Liberation Sans', sans-serif" font-weight="bold" textLength="224" lengthAdjust="spacingAndGlyphs"><tspan font-size="10.6" fill="#3aa8df" stroke="#3aa8df" stroke-width="0.55">NO CHANGE TO HEADCOUNT = </tspan><tspan font-size="14" fill="#1f74ba" stroke="#1f74ba" stroke-width="0.7">35%</tspan></text>
<defs><linearGradient id="arrU" x1="0" y1="0" x2="0" y2="1"><stop offset="0" stop-color="#7fd0f5"/><stop offset="1" stop-color="#1f74ba"/></linearGradient>
<linearGradient id="arrD" x1="0" y1="0" x2="0" y2="1"><stop offset="0" stop-color="#1f74ba"/><stop offset="1" stop-color="#7fd0f5"/></linearGradient>
<radialGradient id="noG" cx="0.4" cy="0.35" r="0.7"><stop offset="0" stop-color="#b8dd7c"/><stop offset="1" stop-color="#4f9a34"/></radialGradient></defs>
<path d="M424 3691.5 L432.2 3701 H427.5 V3712.2 H420.5 V3701 H415.7 Z" fill="url(#arrU)" />
<path d="M425 3760 L432.2 3750.5 H428 V3739.5 H421.5 V3750.5 H417.8 Z" fill="url(#arrD)" />
<path d="M418 3795 A7.5 7.5 0 0 1 431 3793 M431 3789.5 V3794 H426.5" fill="none" stroke="#6dbe45" stroke-width="2.6" stroke-linecap="round" stroke-linejoin="round"/>
<path d="M431.5 3800 A7.5 7.5 0 0 1 418.5 3802 M418.5 3805.5 V3801 H423" fill="none" stroke="#6dbe45" stroke-width="2.6" stroke-linecap="round" stroke-linejoin="round"/>
<circle cx="426" cy="3846.9" r="10.3" fill="url(#noG)" />
<circle cx="426" cy="3846.9" r="6.4" fill="none" stroke="#e9f5dc" stroke-width="1.6"/>
<path d="M421.5 3842.4 L430.5 3851.4" fill="none" stroke="#e9f5dc" stroke-width="2.2"/>
<path d="M450.0 3709.7 V3706.7 Q450.0 3701.7 456.0 3700.7 L457.9 3699.3999999999996 V3697.7999999999997 Q455.0 3695.7 455.1 3692.2 Q455.3 3687.2 460.5 3687.2 Q465.7 3687.2 465.9 3692.2 Q466.0 3695.7 463.1 3697.7999999999997 V3699.3999999999996 L465.0 3700.7 Q471.0 3701.7 471.0 3706.7 V3709.7 Z" fill="#8fc9ec" />
<path d="M476.8 3709.7 V3706.7 Q476.8 3701.7 482.8 3700.7 L484.7 3699.3999999999996 V3697.7999999999997 Q481.8 3695.7 481.90000000000003 3692.2 Q482.1 3687.2 487.3 3687.2 Q492.5 3687.2 492.7 3692.2 Q492.8 3695.7 489.90000000000003 3697.7999999999997 V3699.3999999999996 L491.8 3700.7 Q497.8 3701.7 497.8 3706.7 V3709.7 Z" fill="#8fc9ec" />
<ellipse cx="487.3" cy="3693.2" rx="6.6" ry="6.3" fill="#8fc9ec"/>
<path d="M502.70000000000005 3709.7 V3706.7 Q502.70000000000005 3701.7 508.70000000000005 3700.7 L510.6 3699.3999999999996 V3697.7999999999997 Q507.70000000000005 3695.7 507.80000000000007 3692.2 Q508.00000000000006 3687.2 513.2 3687.2 Q518.4000000000001 3687.2 518.6 3692.2 Q518.7 3695.7 515.8000000000001 3697.7999999999997 V3699.3999999999996 L517.7 3700.7 Q523.7 3701.7 523.7 3706.7 V3709.7 Z" fill="#8fc9ec" />
<path d="M529.5 3709.7 V3706.7 Q529.5 3701.7 535.5 3700.7 L537.4 3699.3999999999996 V3697.7999999999997 Q534.5 3695.7 534.6 3692.2 Q534.8 3687.2 540 3687.2 Q545.2 3687.2 545.4 3692.2 Q545.5 3695.7 542.6 3697.7999999999997 V3699.3999999999996 L544.5 3700.7 Q550.5 3701.7 550.5 3706.7 V3709.7 Z" fill="#8fc9ec" />
<path d="M450.0 3760.5 V3757.5 Q450.0 3752.5 456.0 3751.5 L457.9 3750.2 V3748.6 Q455.0 3746.5 455.1 3743 Q455.3 3738 460.5 3738 Q465.7 3738 465.9 3743 Q466.0 3746.5 463.1 3748.6 V3750.2 L465.0 3751.5 Q471.0 3752.5 471.0 3757.5 V3760.5 Z" fill="#b06ab3" />
<path d="M476.8 3760.5 V3757.5 Q476.8 3752.5 482.8 3751.5 L484.7 3750.2 V3748.6 Q481.8 3746.5 481.90000000000003 3743 Q482.1 3738 487.3 3738 Q492.5 3738 492.7 3743 Q492.8 3746.5 489.90000000000003 3748.6 V3750.2 L491.8 3751.5 Q497.8 3752.5 497.8 3757.5 V3760.5 Z" fill="#b06ab3" />
<ellipse cx="487.3" cy="3744" rx="6.6" ry="6.3" fill="#b06ab3"/>
<clipPath id="cl513"><rect x="501.20000000000005" y="3737" width="11.299999999999955" height="25"/></clipPath>
<path d="M502.70000000000005 3760.5 V3757.5 Q502.70000000000005 3752.5 508.70000000000005 3751.5 L510.6 3750.2 V3748.6 Q507.70000000000005 3746.5 507.80000000000007 3743 Q508.00000000000006 3738 513.2 3738 Q518.4000000000001 3738 518.6 3743 Q518.7 3746.5 515.8000000000001 3748.6 V3750.2 L517.7 3751.5 Q523.7 3752.5 523.7 3757.5 V3760.5 Z" fill="#e0e0e0" />
<path d="M502.70000000000005 3760.5 V3757.5 Q502.70000000000005 3752.5 508.70000000000005 3751.5 L510.6 3750.2 V3748.6 Q507.70000000000005 3746.5 507.80000000000007 3743 Q508.00000000000006 3738 513.2 3738 Q518.4000000000001 3738 518.6 3743 Q518.7 3746.5 515.8000000000001 3748.6 V3750.2 L517.7 3751.5 Q523.7 3752.5 523.7 3757.5 V3760.5 Z" fill="#b06ab3" clip-path="url(#cl513)"/>
<path d="M529.5 3760.5 V3757.5 Q529.5 3752.5 535.5 3751.5 L537.4 3750.2 V3748.6 Q534.5 3746.5 534.6 3743 Q534.8 3738 540 3738 Q545.2 3738 545.4 3743 Q545.5 3746.5 542.6 3748.6 V3750.2 L544.5 3751.5 Q550.5 3752.5 550.5 3757.5 V3760.5 Z" fill="#e0e0e0" />
<path d="M450.0 3808.0 V3805.0 Q450.0 3800.0 456.0 3799.0 L457.9 3797.7 V3796.1 Q455.0 3794.0 455.1 3790.5 Q455.3 3785.5 460.5 3785.5 Q465.7 3785.5 465.9 3790.5 Q466.0 3794.0 463.1 3796.1 V3797.7 L465.0 3799.0 Q471.0 3800.0 471.0 3805.0 V3808.0 Z" fill="#7bae6a" />
<ellipse cx="460.5" cy="3791.5" rx="6.6" ry="6.3" fill="#7bae6a"/>
<path d="M476.8 3808.0 V3805.0 Q476.8 3800.0 482.8 3799.0 L484.7 3797.7 V3796.1 Q481.8 3794.0 481.90000000000003 3790.5 Q482.1 3785.5 487.3 3785.5 Q492.5 3785.5 492.7 3790.5 Q492.8 3794.0 489.90000000000003 3796.1 V3797.7 L491.8 3799.0 Q497.8 3800.0 497.8 3805.0 V3808.0 Z" fill="#f7c96a" />
<path d="M502.70000000000005 3808.0 V3805.0 Q502.70000000000005 3800.0 508.70000000000005 3799.0 L510.6 3797.7 V3796.1 Q507.70000000000005 3794.0 507.80000000000007 3790.5 Q508.00000000000006 3785.5 513.2 3785.5 Q518.4000000000001 3785.5 518.6 3790.5 Q518.7 3794.0 515.8000000000001 3796.1 V3797.7 L517.7 3799.0 Q523.7 3800.0 523.7 3805.0 V3808.0 Z" fill="#8dcbf0" />
<path d="M529.5 3808.0 V3805.0 Q529.5 3800.0 535.5 3799.0 L537.4 3797.7 V3796.1 Q534.5 3794.0 534.6 3790.5 Q534.8 3785.5 540 3785.5 Q545.2 3785.5 545.4 3790.5 Q545.5 3794.0 542.6 3796.1 V3797.7 L544.5 3799.0 Q550.5 3800.0 550.5 3805.0 V3808.0 Z" fill="#a56bb5" />
<circle cx="513.2" cy="3784.8" r="2.2" fill="#8dcbf0" />
<path d="M450.0 3856.5 V3853.5 Q450.0 3848.5 456.0 3847.5 L457.9 3846.2 V3844.6 Q455.0 3842.5 455.1 3839 Q455.3 3834 460.5 3834 Q465.7 3834 465.9 3839 Q466.0 3842.5 463.1 3844.6 V3846.2 L465.0 3847.5 Q471.0 3848.5 471.0 3853.5 V3856.5 Z" fill="none" stroke="#b3b3b3" stroke-width="0.8"/>
<path d="M476.8 3856.5 V3853.5 Q476.8 3848.5 482.8 3847.5 L484.7 3846.2 V3844.6 Q481.8 3842.5 481.90000000000003 3839 Q482.1 3834 487.3 3834 Q492.5 3834 492.7 3839 Q492.8 3842.5 489.90000000000003 3844.6 V3846.2 L491.8 3847.5 Q497.8 3848.5 497.8 3853.5 V3856.5 Z" fill="none" stroke="#b3b3b3" stroke-width="0.8"/>
<path d="M502.70000000000005 3856.5 V3853.5 Q502.70000000000005 3848.5 508.70000000000005 3847.5 L510.6 3846.2 V3844.6 Q507.70000000000005 3842.5 507.80000000000007 3839 Q508.00000000000006 3834 513.2 3834 Q518.4000000000001 3834 518.6 3839 Q518.7 3842.5 515.8000000000001 3844.6 V3846.2 L517.7 3847.5 Q523.7 3848.5 523.7 3853.5 V3856.5 Z" fill="none" stroke="#b3b3b3" stroke-width="0.8"/>
<path d="M529.5 3856.5 V3853.5 Q529.5 3848.5 535.5 3847.5 L537.4 3846.2 V3844.6 Q534.5 3842.5 534.6 3839 Q534.8 3834 540 3834 Q545.2 3834 545.4 3839 Q545.5 3842.5 542.6 3844.6 V3846.2 L544.5 3847.5 Q550.5 3848.5 550.5 3853.5 V3856.5 Z" fill="none" stroke="#b3b3b3" stroke-width="0.8"/>
<text x="516" y="3884" font-size="4.6" fill="#58595b" font-weight="normal" font-family="'Liberation Sans', Arial, sans-serif" textLength="57" lengthAdjust="spacingAndGlyphs">Source: Samanage, HDI</text>
<rect x="0" y="3906.9" width="600" height="4" fill="url(#lineSh)" />
<rect x="0" y="3898.5" width="600" height="8.4" fill="#f7941e" />
<circle cx="301.5" cy="3904.2" r="28.5" fill="#000" opacity="0.10" filter="url(#blur2)"/>
<circle cx="301.5" cy="3902.7" r="28.3" fill="#f7941e" />
<path d="M289.5 3899.7 L301.5 3910.7 L313.5 3899.7" fill="none" stroke="#fff" stroke-width="7" stroke-linecap="round" stroke-linejoin="round"/>
<path d="M142.4 3945.6 H129.9 V4011.7 H142.4 V4008.1 H134.6 V3949.2 H142.4 Z" fill="#d1d3d4" />
<path d="M463.7 3946.3 H476.1 V4010.4 H463.7 V4006.8 H471.5 V3949.9 H463.7 Z" fill="#d1d3d4" />
<text x="151.9" y="3965.7" font-size="12.6" fill="#6d6e71" font-weight="normal" font-family="'Liberation Sans', Arial, sans-serif" textLength="301.2" lengthAdjust="spacingAndGlyphs">When asked to describe, in their own words, the top</text>
<text x="151.9" y="3982.4" font-size="12.6" fill="#6d6e71" font-weight="normal" font-family="'Liberation Sans', Arial, sans-serif" textLength="301.2" lengthAdjust="spacingAndGlyphs">challenges their organizations face with regard to IT</text>
<text x="156.6" y="3999.2" font-size="12.6" fill="#6d6e71" font-weight="normal" font-family="'Liberation Sans', Arial, sans-serif" textLength="293" lengthAdjust="spacingAndGlyphs">process automation, here’s what IT pros had to say:</text>
<path d="M123.5 4034.9h0 M129.9 4034.9h0 M136.3 4034.9h0 M142.7 4034.9h0 M149.1 4034.9h0 M155.5 4034.9h0 M161.9 4034.9h0 M168.3 4034.9h0 M174.7 4034.9h0 M181.1 4034.9h0 M187.5 4034.9h0 M193.9 4034.9h0 M200.3 4034.9h0 M206.7 4034.9h0 M213.1 4034.9h0 M219.5 4034.9h0 M225.9 4034.9h0 M232.3 4034.9h0 M238.7 4034.9h0 M245.1 4034.9h0 M251.5 4034.9h0 M257.9 4034.9h0 M264.3 4034.9h0 M270.7 4034.9h0 M277.1 4034.9h0 M283.5 4034.9h0 M289.9 4034.9h0 M296.3 4034.9h0 M302.7 4034.9h0 M309.1 4034.9h0 M315.5 4034.9h0 M321.9 4034.9h0 M328.3 4034.9h0 M334.7 4034.9h0 M341.1 4034.9h0 M347.5 4034.9h0 M353.9 4034.9h0 M360.3 4034.9h0 M366.7 4034.9h0 M373.1 4034.9h0 M379.5 4034.9h0 M385.9 4034.9h0 M392.3 4034.9h0 M398.7 4034.9h0 M405.1 4034.9h0 M411.5 4034.9h0 M417.9 4034.9h0 M424.3 4034.9h0 M430.7 4034.9h0 M437.1 4034.9h0 M443.5 4034.9h0 M449.9 4034.9h0 M456.3 4034.9h0 M462.7 4034.9h0 M469.1 4034.9h0 M475.5 4034.9h0 M481.9 4034.9h0 M488.3 4034.9h0 M494.7 4034.9h0 M501.1 4034.9h0" stroke="#4a9fd5" stroke-width="2.0" stroke-linecap="round" fill="none"/>
<text x="82.7" y="4128.6" font-size="15.2" fill="#707275" font-weight="bold" font-family="'Liberation Sans', Arial, sans-serif" textLength="86.8" lengthAdjust="spacingAndGlyphs" stroke="#707275" stroke-width="0.5">Overcoming</text>
<text x="121.2" y="4143.8" font-size="15.2" fill="#707275" font-weight="bold" font-family="'Liberation Sans', Arial, sans-serif" textLength="47.1" lengthAdjust="spacingAndGlyphs" stroke="#707275" stroke-width="0.5">Money</text>
<text x="174.2" y="4071.5" font-size="16.2" fill="#707275" font-weight="bold" font-family="'Liberation Sans', Arial, sans-serif" stroke="#707275" stroke-width="0.5" textLength="82.7" lengthAdjust="spacingAndGlyphs" transform="rotate(90 174.2 4071.5)">Resistance</text>
<text x="190" y="4123.7" font-size="23.6" fill="#707275" font-weight="bold" font-family="'Liberation Sans', Arial, sans-serif" textLength="61.7" lengthAdjust="spacingAndGlyphs" stroke="#707275" stroke-width="0.5">Level</text>
<text x="254.2" y="4123.7" font-size="11.9" fill="#707275" font-weight="bold" font-family="'Liberation Sans', Arial, sans-serif" textLength="59.7" lengthAdjust="spacingAndGlyphs" stroke="#707275" stroke-width="0.5">Structure</text>
<text x="190" y="4150.3" font-size="29.5" fill="#707275" font-weight="bold" font-family="'Liberation Sans', Arial, sans-serif" textLength="126.4" lengthAdjust="spacingAndGlyphs" stroke="#707275" stroke-width="0.5">Project</text>
<text x="323.5" y="4070" font-size="27.2" fill="#707275" font-weight="bold" font-family="'Liberation Sans', Arial, sans-serif" stroke="#707275" stroke-width="0.5" textLength="82.8" lengthAdjust="spacingAndGlyphs" transform="rotate(90 323.5 4070)">Needs</text>
<text x="353" y="4120.8" font-size="12.3" fill="#707275" font-weight="bold" font-family="'Liberation Sans', Arial, sans-serif" textLength="63.7" lengthAdjust="spacingAndGlyphs" stroke="#707275" stroke-width="0.5">Knowledge</text>
<text x="378.3" y="4133.7" font-size="14.2" fill="#707275" font-weight="bold" font-family="'Liberation Sans', Arial, sans-serif" textLength="60.8" lengthAdjust="spacingAndGlyphs" stroke="#707275" stroke-width="0.5">Financial</text>
<text x="353" y="4147.3" font-size="17.2" fill="#707275" font-weight="bold" font-family="'Liberation Sans', Arial, sans-serif" textLength="86.1" lengthAdjust="spacingAndGlyphs" stroke="#707275" stroke-width="0.5">Employee</text>
<text x="445.6" y="4089.5" font-size="24.4" fill="#707275" font-weight="bold" font-family="'Liberation Sans', Arial, sans-serif" stroke="#707275" stroke-width="0.5" textLength="82.5" lengthAdjust="spacingAndGlyphs" transform="rotate(90 445.6 4089.5)">Change</text>
<text x="75.9" y="4187.8" font-size="24.2" fill="#707275" font-weight="bold" font-family="'Liberation Sans', Arial, sans-serif" textLength="52.1" lengthAdjust="spacingAndGlyphs" stroke="#707275" stroke-width="0.5">Buy</text>
<text x="126.4" y="4187.8" font-size="52" fill="#3aafe3" font-weight="bold" font-family="'Liberation Sans', Arial, sans-serif" textLength="312.4" lengthAdjust="spacingAndGlyphs" stroke="#3aafe3" stroke-width="0.8">Automation</text>
<text x="446.3" y="4191" font-size="17.2" fill="#707275" font-weight="bold" font-family="'Liberation Sans', Arial, sans-serif" textLength="78.5" lengthAdjust="spacingAndGlyphs" stroke="#707275" stroke-width="0.5">Security</text>
<text x="71.7" y="4214.4" font-size="32" fill="#707275" font-weight="bold" font-family="'Liberation Sans', Arial, sans-serif" textLength="110.4" lengthAdjust="spacingAndGlyphs" stroke="#707275" stroke-width="0.5">Human</text>
<text x="188.6" y="4191.8" font-size="22.4" fill="#707275" font-weight="bold" font-family="'Liberation Sans', Arial, sans-serif" stroke="#707275" stroke-width="0.5" textLength="103.5" lengthAdjust="spacingAndGlyphs" transform="rotate(90 188.6 4191.8)">Finding</text>
<text x="215.8" y="4210" font-size="22.2" fill="#707275" font-weight="bold" font-family="'Liberation Sans', Arial, sans-serif" textLength="172.9" lengthAdjust="spacingAndGlyphs" stroke="#707275" stroke-width="0.5">Understanding</text>
<text x="415.7" y="4214.5" font-size="23" fill="#707275" font-weight="bold" font-family="'Liberation Sans', Arial, sans-serif" textLength="109.1" lengthAdjust="spacingAndGlyphs" stroke="#707275" stroke-width="0.5">Divisions</text>
<text x="215.8" y="4227.6" font-size="14.6" fill="#707275" font-weight="bold" font-family="'Liberation Sans', Arial, sans-serif" textLength="111.5" lengthAdjust="spacingAndGlyphs" stroke="#707275" stroke-width="0.5">Management</text>
<text x="333" y="4225.3" font-size="12.6" fill="#707275" font-weight="bold" font-family="'Liberation Sans', Arial, sans-serif" textLength="47.7" lengthAdjust="spacingAndGlyphs" stroke="#707275" stroke-width="0.5">Legacy</text>
<text x="415.7" y="4233.6" font-size="16.2" fill="#707275" font-weight="bold" font-family="'Liberation Sans', Arial, sans-serif" textLength="107.4" lengthAdjust="spacingAndGlyphs" stroke="#707275" stroke-width="0.5">Technology</text>
<text x="215.8" y="4261" font-size="37.5" fill="#707275" font-weight="bold" font-family="'Liberation Sans', Arial, sans-serif" textLength="145.8" lengthAdjust="spacingAndGlyphs" stroke="#707275" stroke-width="0.5">Process</text>
<text x="378.6" y="4277" font-size="18.2" fill="#707275" font-weight="bold" font-family="'Liberation Sans', Arial, sans-serif" stroke="#707275" stroke-width="0.5" textLength="41.4" lengthAdjust="spacingAndGlyphs" transform="rotate(-90 378.6 4277)">Cost</text>
<text x="410.6" y="4277" font-size="22.5" fill="#707275" font-weight="bold" font-family="'Liberation Sans', Arial, sans-serif" stroke="#707275" stroke-width="0.5" textLength="81.3" lengthAdjust="spacingAndGlyphs" transform="rotate(-90 410.6 4277)">Budget</text>
<text x="534.5" y="4330" font-size="4.6" fill="#58595b" font-weight="normal" font-family="'Liberation Sans', Arial, sans-serif" textLength="35.5" lengthAdjust="spacingAndGlyphs">Source: Samanage</text>
<rect x="0" y="4348.6" width="600" height="4" fill="url(#lineSh)" />
<rect x="0" y="4339.8" width="600" height="8.9" fill="#f7941e" />
<text x="31.3" y="4423.6" font-size="45.5" fill="#1c6fb9" font-weight="bold" font-family="'DejaVu Sans', 'Liberation Sans', sans-serif" textLength="103.3" lengthAdjust="spacingAndGlyphs" stroke="#1c6fb9" stroke-width="4.2" stroke-linejoin="miter">HDI</text>
<rect x="34.6" y="4428.3" width="96.6" height="3" fill="#f9c31f" />
<text x="132" y="4393" font-size="4.5" fill="#1f6fb7" font-weight="normal" font-family="'Liberation Sans', Arial, sans-serif">®</text>
<text x="362.2" y="4418.8" font-size="44" fill="#1d2951" font-weight="normal" font-family="'Liberation Sans', Arial, sans-serif" textLength="206" lengthAdjust="spacingAndGlyphs" stroke="#1d2951" stroke-width="0.5">samanage</text>
<rect x="0" y="4453.8" width="600" height="102.19999999999982" fill="#3cb0e3" />
<text x="329.9" y="4518.5" font-size="22.6" fill="#fff" font-weight="normal" font-family="'Liberation Sans', Arial, sans-serif" textLength="240.5" lengthAdjust="spacingAndGlyphs">ThinkHDI.com | 800.248.5667</text>
<text x="34.4" y="4516.5" font-size="9.4" fill="#fff" font-weight="bold" font-family="'Liberation Sans', Arial, sans-serif" textLength="19.8" lengthAdjust="spacingAndGlyphs">UBM</text>
<text x="66" y="4516.7" font-size="8.6" fill="#fff" font-weight="normal" font-family="'Liberation Sans', Arial, sans-serif" textLength="129.5" lengthAdjust="spacingAndGlyphs">© 2017 HDI. All rights reserved.</text>
<circle cx="34.0" cy="4481.5" r="0.9" fill="#fff" />
<circle cx="55.0" cy="4481.5" r="0.9" fill="#fff" />
<circle cx="31.2" cy="4482.0" r="0.59" fill="#fff" />
<circle cx="57.8" cy="4482.0" r="0.59" fill="#fff" />
<circle cx="34.2" cy="4484.4" r="1.5" fill="#fff" />
<circle cx="54.8" cy="4484.4" r="1.5" fill="#fff" />
<circle cx="31.8" cy="4484.9" r="0.97" fill="#fff" />
<circle cx="57.2" cy="4484.9" r="0.97" fill="#fff" />
<circle cx="34.7" cy="4487.3" r="1.9" fill="#fff" />
<circle cx="54.3" cy="4487.3" r="1.9" fill="#fff" />
<circle cx="32.9" cy="4487.8" r="1.24" fill="#fff" />
<circle cx="56.1" cy="4487.8" r="1.24" fill="#fff" />
<circle cx="35.6" cy="4490.2" r="1.99" fill="#fff" />
<circle cx="53.4" cy="4490.2" r="1.99" fill="#fff" />
<circle cx="34.2" cy="4490.8" r="1.29" fill="#fff" />
<circle cx="54.8" cy="4490.8" r="1.29" fill="#fff" />
<circle cx="36.9" cy="4493.2" r="1.72" fill="#fff" />
<circle cx="52.1" cy="4493.2" r="1.72" fill="#fff" />
<circle cx="36.0" cy="4493.7" r="1.12" fill="#fff" />
<circle cx="53.0" cy="4493.7" r="1.12" fill="#fff" />
<circle cx="38.5" cy="4496.1" r="1.18" fill="#fff" />
<circle cx="50.5" cy="4496.1" r="1.18" fill="#fff" />
<circle cx="38.0" cy="4496.6" r="0.77" fill="#fff" />
<circle cx="51.0" cy="4496.6" r="0.77" fill="#fff" />
<circle cx="40.5" cy="4499.0" r="0.9" fill="#fff" />
<circle cx="48.5" cy="4499.0" r="0.9" fill="#fff" />
<circle cx="40.5" cy="4499.5" r="0.59" fill="#fff" />
<circle cx="48.5" cy="4499.5" r="0.59" fill="#fff" />
<circle cx="41.3" cy="4502.3" r="1.1" fill="#fff" />
<circle cx="44.5" cy="4502.3" r="1.1" fill="#fff" />
<circle cx="47.7" cy="4502.3" r="1.1" fill="#fff" />
</svg>
</body></html>
